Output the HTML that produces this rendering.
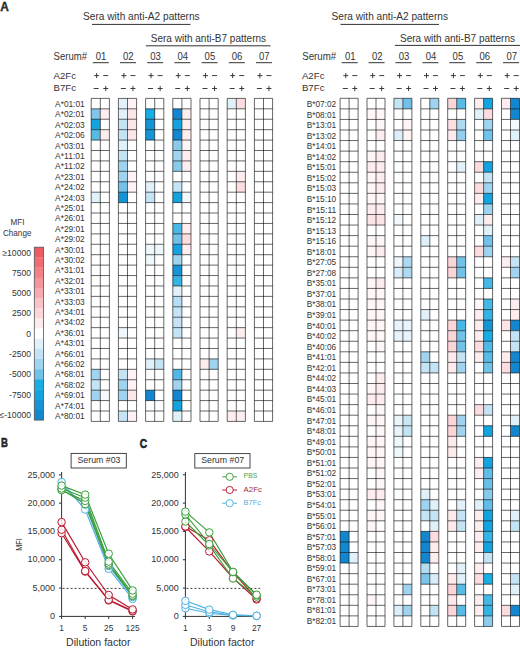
<!DOCTYPE html>
<html><head><meta charset="utf-8"><title>Figure</title>
<style>
html,body{margin:0;padding:0;background:#fff;}
body{width:520px;height:649px;overflow:hidden;}
svg{display:block;}
text{font-family:"Liberation Sans",sans-serif;}
</style></head>
<body>
<svg width="520" height="649" viewBox="0 0 520 649" fill="#333333">
<rect width="520" height="649" fill="#fff"/>
<text x="0.20" y="10.90" font-size="12" font-weight="bold" textLength="8.6" lengthAdjust="spacingAndGlyphs" stroke="#000" stroke-width="0.3">A</text>
<text x="0.90" y="447.40" font-size="12" font-weight="bold" textLength="6.9" lengthAdjust="spacingAndGlyphs" stroke="#000" stroke-width="0.5">B</text>
<text x="139.80" y="447.60" font-size="12" font-weight="bold" textLength="7.4" lengthAdjust="spacingAndGlyphs" stroke="#000" stroke-width="0.5">C</text>
<text x="83.00" y="20.00" font-size="10.4" textLength="116.7" lengthAdjust="spacingAndGlyphs">Sera with anti-A2 patterns</text>
<line x1="92.00" y1="24.40" x2="190.50" y2="24.40" stroke="#333" stroke-width="1.0"/>
<text x="150.70" y="41.90" font-size="10.4" textLength="115.4" lengthAdjust="spacingAndGlyphs">Sera with anti-B7 patterns</text>
<line x1="145.80" y1="45.80" x2="270.50" y2="45.80" stroke="#333" stroke-width="1.0"/>
<text x="53.60" y="59.60" font-size="10.3" textLength="33.4" lengthAdjust="spacingAndGlyphs">Serum#</text>
<text x="53.60" y="78.50" font-size="9.8" textLength="22.4" lengthAdjust="spacingAndGlyphs">A2Fc</text>
<text x="53.60" y="90.80" font-size="9.8" textLength="22.4" lengthAdjust="spacingAndGlyphs">B7Fc</text>
<text x="331.60" y="19.80" font-size="10.4" textLength="116.4" lengthAdjust="spacingAndGlyphs">Sera with anti-A2 patterns</text>
<line x1="340.50" y1="24.40" x2="439.00" y2="24.40" stroke="#333" stroke-width="1.0"/>
<text x="400.00" y="41.60" font-size="10.4" textLength="115.0" lengthAdjust="spacingAndGlyphs">Sera with anti-B7 patterns</text>
<line x1="395.00" y1="45.40" x2="520.00" y2="45.40" stroke="#333" stroke-width="1.0"/>
<text x="302.30" y="59.50" font-size="10.3" textLength="33.8" lengthAdjust="spacingAndGlyphs">Serum#</text>
<text x="301.90" y="78.50" font-size="9.8" textLength="22.6" lengthAdjust="spacingAndGlyphs">A2Fc</text>
<text x="301.90" y="90.90" font-size="9.8" textLength="22.6" lengthAdjust="spacingAndGlyphs">B7Fc</text>
<rect x="118.40" y="98.40" width="9.10" height="10.42" fill="#e1f1fa"/>
<rect x="127.50" y="98.40" width="9.10" height="10.42" fill="#fef2f4"/>
<rect x="227.20" y="98.40" width="9.10" height="10.42" fill="#e1f1fa"/>
<rect x="236.30" y="98.40" width="9.10" height="10.42" fill="#fcdcdf"/>
<rect x="91.20" y="108.82" width="9.10" height="10.42" fill="#80c6ea"/>
<rect x="100.30" y="108.82" width="9.10" height="10.42" fill="#fdedef"/>
<rect x="118.40" y="108.82" width="9.10" height="10.42" fill="#e1f1fa"/>
<rect x="127.50" y="108.82" width="9.10" height="10.42" fill="#fde6e8"/>
<rect x="145.60" y="108.82" width="9.10" height="10.42" fill="#19aee3"/>
<rect x="172.80" y="108.82" width="9.10" height="10.42" fill="#1287cf"/>
<rect x="181.90" y="108.82" width="9.10" height="10.42" fill="#fdedef"/>
<rect x="91.20" y="119.24" width="9.10" height="10.42" fill="#13a3de"/>
<rect x="118.40" y="119.24" width="9.10" height="10.42" fill="#c4e4f5"/>
<rect x="127.50" y="119.24" width="9.10" height="10.42" fill="#fde6e8"/>
<rect x="145.60" y="119.24" width="9.10" height="10.42" fill="#1595d6"/>
<rect x="172.80" y="119.24" width="9.10" height="10.42" fill="#13a3de"/>
<rect x="181.90" y="119.24" width="9.10" height="10.42" fill="#fdedef"/>
<rect x="91.20" y="129.66" width="9.10" height="10.42" fill="#57bbe6"/>
<rect x="100.30" y="129.66" width="9.10" height="10.42" fill="#fdedef"/>
<rect x="118.40" y="129.66" width="9.10" height="10.42" fill="#c4e4f5"/>
<rect x="127.50" y="129.66" width="9.10" height="10.42" fill="#fde6e8"/>
<rect x="145.60" y="129.66" width="9.10" height="10.42" fill="#1595d6"/>
<rect x="172.80" y="129.66" width="9.10" height="10.42" fill="#1287cf"/>
<rect x="181.90" y="129.66" width="9.10" height="10.42" fill="#fdedef"/>
<rect x="118.40" y="140.08" width="9.10" height="10.42" fill="#e1f1fa"/>
<rect x="172.80" y="140.08" width="9.10" height="10.42" fill="#88caec"/>
<rect x="181.90" y="140.08" width="9.10" height="10.42" fill="#fef6f7"/>
<rect x="118.40" y="150.50" width="9.10" height="10.42" fill="#c4e4f5"/>
<rect x="172.80" y="150.50" width="9.10" height="10.42" fill="#9fd3ef"/>
<rect x="181.90" y="150.50" width="9.10" height="10.42" fill="#fdedef"/>
<rect x="118.40" y="160.92" width="9.10" height="10.42" fill="#9fd3ef"/>
<rect x="172.80" y="160.92" width="9.10" height="10.42" fill="#88caec"/>
<rect x="181.90" y="160.92" width="9.10" height="10.42" fill="#fdedef"/>
<rect x="118.40" y="171.34" width="9.10" height="10.42" fill="#9fd3ef"/>
<rect x="127.50" y="171.34" width="9.10" height="10.42" fill="#fef2f4"/>
<rect x="236.30" y="171.34" width="9.10" height="10.42" fill="#fdedef"/>
<rect x="118.40" y="181.76" width="9.10" height="10.42" fill="#72c1e8"/>
<rect x="127.50" y="181.76" width="9.10" height="10.42" fill="#fef2f4"/>
<rect x="145.60" y="181.76" width="9.10" height="10.42" fill="#e1f1fa"/>
<rect x="172.80" y="181.76" width="9.10" height="10.42" fill="#c4e4f5"/>
<rect x="236.30" y="181.76" width="9.10" height="10.42" fill="#fcdcdf"/>
<rect x="91.20" y="192.18" width="9.10" height="10.42" fill="#e1f1fa"/>
<rect x="118.40" y="192.18" width="9.10" height="10.42" fill="#1595d6"/>
<rect x="145.60" y="192.18" width="9.10" height="10.42" fill="#c4e4f5"/>
<rect x="172.80" y="192.18" width="9.10" height="10.42" fill="#13a3de"/>
<rect x="181.90" y="192.18" width="9.10" height="10.42" fill="#f3f9fd"/>
<rect x="172.80" y="223.44" width="9.10" height="10.42" fill="#46b8e6"/>
<rect x="181.90" y="223.44" width="9.10" height="10.42" fill="#fdedef"/>
<rect x="172.80" y="233.86" width="9.10" height="10.42" fill="#72c1e8"/>
<rect x="181.90" y="233.86" width="9.10" height="10.42" fill="#fcdcdf"/>
<rect x="145.60" y="244.28" width="9.10" height="10.42" fill="#edf7fc"/>
<rect x="154.70" y="244.28" width="9.10" height="10.42" fill="#edf7fc"/>
<rect x="172.80" y="244.28" width="9.10" height="10.42" fill="#13a3de"/>
<rect x="181.90" y="244.28" width="9.10" height="10.42" fill="#fdedef"/>
<rect x="145.60" y="254.70" width="9.10" height="10.42" fill="#f0f8fc"/>
<rect x="172.80" y="254.70" width="9.10" height="10.42" fill="#9fd3ef"/>
<rect x="172.80" y="265.12" width="9.10" height="10.42" fill="#1595d6"/>
<rect x="172.80" y="275.54" width="9.10" height="10.42" fill="#34b4e4"/>
<rect x="172.80" y="285.96" width="9.10" height="10.42" fill="#e1f1fa"/>
<rect x="172.80" y="296.38" width="9.10" height="10.42" fill="#b5ddf3"/>
<rect x="172.80" y="306.80" width="9.10" height="10.42" fill="#c4e4f5"/>
<rect x="172.80" y="317.22" width="9.10" height="10.42" fill="#c4e4f5"/>
<rect x="118.40" y="327.64" width="9.10" height="10.42" fill="#edf7fc"/>
<rect x="172.80" y="327.64" width="9.10" height="10.42" fill="#c4e4f5"/>
<rect x="236.30" y="327.64" width="9.10" height="10.42" fill="#fdedef"/>
<rect x="145.60" y="358.90" width="9.10" height="10.42" fill="#e1f1fa"/>
<rect x="154.70" y="358.90" width="9.10" height="10.42" fill="#c4e4f5"/>
<rect x="200.00" y="358.90" width="9.10" height="10.42" fill="#fdedef"/>
<rect x="209.10" y="358.90" width="9.10" height="10.42" fill="#9fd3ef"/>
<rect x="91.20" y="369.32" width="9.10" height="10.42" fill="#9fd3ef"/>
<rect x="118.40" y="369.32" width="9.10" height="10.42" fill="#c4e4f5"/>
<rect x="127.50" y="369.32" width="9.10" height="10.42" fill="#fef2f4"/>
<rect x="172.80" y="369.32" width="9.10" height="10.42" fill="#4eb9e6"/>
<rect x="91.20" y="379.74" width="9.10" height="10.42" fill="#c4e4f5"/>
<rect x="118.40" y="379.74" width="9.10" height="10.42" fill="#9fd3ef"/>
<rect x="127.50" y="379.74" width="9.10" height="10.42" fill="#fef2f4"/>
<rect x="172.80" y="379.74" width="9.10" height="10.42" fill="#9fd3ef"/>
<rect x="91.20" y="390.16" width="9.10" height="10.42" fill="#9fd3ef"/>
<rect x="100.30" y="390.16" width="9.10" height="10.42" fill="#f3f9fd"/>
<rect x="118.40" y="390.16" width="9.10" height="10.42" fill="#9fd3ef"/>
<rect x="127.50" y="390.16" width="9.10" height="10.42" fill="#fde6e8"/>
<rect x="145.60" y="390.16" width="9.10" height="10.42" fill="#1287cf"/>
<rect x="172.80" y="390.16" width="9.10" height="10.42" fill="#1287cf"/>
<rect x="172.80" y="400.58" width="9.10" height="10.42" fill="#13a3de"/>
<rect x="118.40" y="411.00" width="9.10" height="10.42" fill="#c4e4f5"/>
<rect x="127.50" y="411.00" width="9.10" height="10.42" fill="#fef2f4"/>
<rect x="172.80" y="411.00" width="9.10" height="10.42" fill="#e1f1fa"/>
<rect x="227.20" y="411.00" width="9.10" height="10.42" fill="#fdedef"/>
<rect x="236.30" y="411.00" width="9.10" height="10.42" fill="#fdedef"/>
<line x1="91.20" y1="98.40" x2="91.20" y2="421.42" stroke="#000" stroke-width="0.95" stroke-opacity="0.63"/>
<line x1="100.30" y1="98.40" x2="100.30" y2="421.42" stroke="#000" stroke-width="0.95" stroke-opacity="0.63"/>
<line x1="109.40" y1="98.40" x2="109.40" y2="421.42" stroke="#000" stroke-width="0.95" stroke-opacity="0.63"/>
<line x1="91.20" y1="98.40" x2="109.40" y2="98.40" stroke="#000" stroke-width="0.95" stroke-opacity="0.63"/>
<line x1="91.20" y1="108.82" x2="109.40" y2="108.82" stroke="#000" stroke-width="0.95" stroke-opacity="0.63"/>
<line x1="91.20" y1="119.24" x2="109.40" y2="119.24" stroke="#000" stroke-width="0.95" stroke-opacity="0.63"/>
<line x1="91.20" y1="129.66" x2="109.40" y2="129.66" stroke="#000" stroke-width="0.95" stroke-opacity="0.63"/>
<line x1="91.20" y1="140.08" x2="109.40" y2="140.08" stroke="#000" stroke-width="0.95" stroke-opacity="0.63"/>
<line x1="91.20" y1="150.50" x2="109.40" y2="150.50" stroke="#000" stroke-width="0.95" stroke-opacity="0.63"/>
<line x1="91.20" y1="160.92" x2="109.40" y2="160.92" stroke="#000" stroke-width="0.95" stroke-opacity="0.63"/>
<line x1="91.20" y1="171.34" x2="109.40" y2="171.34" stroke="#000" stroke-width="0.95" stroke-opacity="0.63"/>
<line x1="91.20" y1="181.76" x2="109.40" y2="181.76" stroke="#000" stroke-width="0.95" stroke-opacity="0.63"/>
<line x1="91.20" y1="192.18" x2="109.40" y2="192.18" stroke="#000" stroke-width="0.95" stroke-opacity="0.63"/>
<line x1="91.20" y1="202.60" x2="109.40" y2="202.60" stroke="#000" stroke-width="0.95" stroke-opacity="0.63"/>
<line x1="91.20" y1="213.02" x2="109.40" y2="213.02" stroke="#000" stroke-width="0.95" stroke-opacity="0.63"/>
<line x1="91.20" y1="223.44" x2="109.40" y2="223.44" stroke="#000" stroke-width="0.95" stroke-opacity="0.63"/>
<line x1="91.20" y1="233.86" x2="109.40" y2="233.86" stroke="#000" stroke-width="0.95" stroke-opacity="0.63"/>
<line x1="91.20" y1="244.28" x2="109.40" y2="244.28" stroke="#000" stroke-width="0.95" stroke-opacity="0.63"/>
<line x1="91.20" y1="254.70" x2="109.40" y2="254.70" stroke="#000" stroke-width="0.95" stroke-opacity="0.63"/>
<line x1="91.20" y1="265.12" x2="109.40" y2="265.12" stroke="#000" stroke-width="0.95" stroke-opacity="0.63"/>
<line x1="91.20" y1="275.54" x2="109.40" y2="275.54" stroke="#000" stroke-width="0.95" stroke-opacity="0.63"/>
<line x1="91.20" y1="285.96" x2="109.40" y2="285.96" stroke="#000" stroke-width="0.95" stroke-opacity="0.63"/>
<line x1="91.20" y1="296.38" x2="109.40" y2="296.38" stroke="#000" stroke-width="0.95" stroke-opacity="0.63"/>
<line x1="91.20" y1="306.80" x2="109.40" y2="306.80" stroke="#000" stroke-width="0.95" stroke-opacity="0.63"/>
<line x1="91.20" y1="317.22" x2="109.40" y2="317.22" stroke="#000" stroke-width="0.95" stroke-opacity="0.63"/>
<line x1="91.20" y1="327.64" x2="109.40" y2="327.64" stroke="#000" stroke-width="0.95" stroke-opacity="0.63"/>
<line x1="91.20" y1="338.06" x2="109.40" y2="338.06" stroke="#000" stroke-width="0.95" stroke-opacity="0.63"/>
<line x1="91.20" y1="348.48" x2="109.40" y2="348.48" stroke="#000" stroke-width="0.95" stroke-opacity="0.63"/>
<line x1="91.20" y1="358.90" x2="109.40" y2="358.90" stroke="#000" stroke-width="0.95" stroke-opacity="0.63"/>
<line x1="91.20" y1="369.32" x2="109.40" y2="369.32" stroke="#000" stroke-width="0.95" stroke-opacity="0.63"/>
<line x1="91.20" y1="379.74" x2="109.40" y2="379.74" stroke="#000" stroke-width="0.95" stroke-opacity="0.63"/>
<line x1="91.20" y1="390.16" x2="109.40" y2="390.16" stroke="#000" stroke-width="0.95" stroke-opacity="0.63"/>
<line x1="91.20" y1="400.58" x2="109.40" y2="400.58" stroke="#000" stroke-width="0.95" stroke-opacity="0.63"/>
<line x1="91.20" y1="411.00" x2="109.40" y2="411.00" stroke="#000" stroke-width="0.95" stroke-opacity="0.63"/>
<line x1="91.20" y1="421.42" x2="109.40" y2="421.42" stroke="#000" stroke-width="0.95" stroke-opacity="0.63"/>
<line x1="118.40" y1="98.40" x2="118.40" y2="421.42" stroke="#000" stroke-width="0.95" stroke-opacity="0.63"/>
<line x1="127.50" y1="98.40" x2="127.50" y2="421.42" stroke="#000" stroke-width="0.95" stroke-opacity="0.63"/>
<line x1="136.60" y1="98.40" x2="136.60" y2="421.42" stroke="#000" stroke-width="0.95" stroke-opacity="0.63"/>
<line x1="118.40" y1="98.40" x2="136.60" y2="98.40" stroke="#000" stroke-width="0.95" stroke-opacity="0.63"/>
<line x1="118.40" y1="108.82" x2="136.60" y2="108.82" stroke="#000" stroke-width="0.95" stroke-opacity="0.63"/>
<line x1="118.40" y1="119.24" x2="136.60" y2="119.24" stroke="#000" stroke-width="0.95" stroke-opacity="0.63"/>
<line x1="118.40" y1="129.66" x2="136.60" y2="129.66" stroke="#000" stroke-width="0.95" stroke-opacity="0.63"/>
<line x1="118.40" y1="140.08" x2="136.60" y2="140.08" stroke="#000" stroke-width="0.95" stroke-opacity="0.63"/>
<line x1="118.40" y1="150.50" x2="136.60" y2="150.50" stroke="#000" stroke-width="0.95" stroke-opacity="0.63"/>
<line x1="118.40" y1="160.92" x2="136.60" y2="160.92" stroke="#000" stroke-width="0.95" stroke-opacity="0.63"/>
<line x1="118.40" y1="171.34" x2="136.60" y2="171.34" stroke="#000" stroke-width="0.95" stroke-opacity="0.63"/>
<line x1="118.40" y1="181.76" x2="136.60" y2="181.76" stroke="#000" stroke-width="0.95" stroke-opacity="0.63"/>
<line x1="118.40" y1="192.18" x2="136.60" y2="192.18" stroke="#000" stroke-width="0.95" stroke-opacity="0.63"/>
<line x1="118.40" y1="202.60" x2="136.60" y2="202.60" stroke="#000" stroke-width="0.95" stroke-opacity="0.63"/>
<line x1="118.40" y1="213.02" x2="136.60" y2="213.02" stroke="#000" stroke-width="0.95" stroke-opacity="0.63"/>
<line x1="118.40" y1="223.44" x2="136.60" y2="223.44" stroke="#000" stroke-width="0.95" stroke-opacity="0.63"/>
<line x1="118.40" y1="233.86" x2="136.60" y2="233.86" stroke="#000" stroke-width="0.95" stroke-opacity="0.63"/>
<line x1="118.40" y1="244.28" x2="136.60" y2="244.28" stroke="#000" stroke-width="0.95" stroke-opacity="0.63"/>
<line x1="118.40" y1="254.70" x2="136.60" y2="254.70" stroke="#000" stroke-width="0.95" stroke-opacity="0.63"/>
<line x1="118.40" y1="265.12" x2="136.60" y2="265.12" stroke="#000" stroke-width="0.95" stroke-opacity="0.63"/>
<line x1="118.40" y1="275.54" x2="136.60" y2="275.54" stroke="#000" stroke-width="0.95" stroke-opacity="0.63"/>
<line x1="118.40" y1="285.96" x2="136.60" y2="285.96" stroke="#000" stroke-width="0.95" stroke-opacity="0.63"/>
<line x1="118.40" y1="296.38" x2="136.60" y2="296.38" stroke="#000" stroke-width="0.95" stroke-opacity="0.63"/>
<line x1="118.40" y1="306.80" x2="136.60" y2="306.80" stroke="#000" stroke-width="0.95" stroke-opacity="0.63"/>
<line x1="118.40" y1="317.22" x2="136.60" y2="317.22" stroke="#000" stroke-width="0.95" stroke-opacity="0.63"/>
<line x1="118.40" y1="327.64" x2="136.60" y2="327.64" stroke="#000" stroke-width="0.95" stroke-opacity="0.63"/>
<line x1="118.40" y1="338.06" x2="136.60" y2="338.06" stroke="#000" stroke-width="0.95" stroke-opacity="0.63"/>
<line x1="118.40" y1="348.48" x2="136.60" y2="348.48" stroke="#000" stroke-width="0.95" stroke-opacity="0.63"/>
<line x1="118.40" y1="358.90" x2="136.60" y2="358.90" stroke="#000" stroke-width="0.95" stroke-opacity="0.63"/>
<line x1="118.40" y1="369.32" x2="136.60" y2="369.32" stroke="#000" stroke-width="0.95" stroke-opacity="0.63"/>
<line x1="118.40" y1="379.74" x2="136.60" y2="379.74" stroke="#000" stroke-width="0.95" stroke-opacity="0.63"/>
<line x1="118.40" y1="390.16" x2="136.60" y2="390.16" stroke="#000" stroke-width="0.95" stroke-opacity="0.63"/>
<line x1="118.40" y1="400.58" x2="136.60" y2="400.58" stroke="#000" stroke-width="0.95" stroke-opacity="0.63"/>
<line x1="118.40" y1="411.00" x2="136.60" y2="411.00" stroke="#000" stroke-width="0.95" stroke-opacity="0.63"/>
<line x1="118.40" y1="421.42" x2="136.60" y2="421.42" stroke="#000" stroke-width="0.95" stroke-opacity="0.63"/>
<line x1="145.60" y1="98.40" x2="145.60" y2="421.42" stroke="#000" stroke-width="0.95" stroke-opacity="0.63"/>
<line x1="154.70" y1="98.40" x2="154.70" y2="421.42" stroke="#000" stroke-width="0.95" stroke-opacity="0.63"/>
<line x1="163.80" y1="98.40" x2="163.80" y2="421.42" stroke="#000" stroke-width="0.95" stroke-opacity="0.63"/>
<line x1="145.60" y1="98.40" x2="163.80" y2="98.40" stroke="#000" stroke-width="0.95" stroke-opacity="0.63"/>
<line x1="145.60" y1="108.82" x2="163.80" y2="108.82" stroke="#000" stroke-width="0.95" stroke-opacity="0.63"/>
<line x1="145.60" y1="119.24" x2="163.80" y2="119.24" stroke="#000" stroke-width="0.95" stroke-opacity="0.63"/>
<line x1="145.60" y1="129.66" x2="163.80" y2="129.66" stroke="#000" stroke-width="0.95" stroke-opacity="0.63"/>
<line x1="145.60" y1="140.08" x2="163.80" y2="140.08" stroke="#000" stroke-width="0.95" stroke-opacity="0.63"/>
<line x1="145.60" y1="150.50" x2="163.80" y2="150.50" stroke="#000" stroke-width="0.95" stroke-opacity="0.63"/>
<line x1="145.60" y1="160.92" x2="163.80" y2="160.92" stroke="#000" stroke-width="0.95" stroke-opacity="0.63"/>
<line x1="145.60" y1="171.34" x2="163.80" y2="171.34" stroke="#000" stroke-width="0.95" stroke-opacity="0.63"/>
<line x1="145.60" y1="181.76" x2="163.80" y2="181.76" stroke="#000" stroke-width="0.95" stroke-opacity="0.63"/>
<line x1="145.60" y1="192.18" x2="163.80" y2="192.18" stroke="#000" stroke-width="0.95" stroke-opacity="0.63"/>
<line x1="145.60" y1="202.60" x2="163.80" y2="202.60" stroke="#000" stroke-width="0.95" stroke-opacity="0.63"/>
<line x1="145.60" y1="213.02" x2="163.80" y2="213.02" stroke="#000" stroke-width="0.95" stroke-opacity="0.63"/>
<line x1="145.60" y1="223.44" x2="163.80" y2="223.44" stroke="#000" stroke-width="0.95" stroke-opacity="0.63"/>
<line x1="145.60" y1="233.86" x2="163.80" y2="233.86" stroke="#000" stroke-width="0.95" stroke-opacity="0.63"/>
<line x1="145.60" y1="244.28" x2="163.80" y2="244.28" stroke="#000" stroke-width="0.95" stroke-opacity="0.63"/>
<line x1="145.60" y1="254.70" x2="163.80" y2="254.70" stroke="#000" stroke-width="0.95" stroke-opacity="0.63"/>
<line x1="145.60" y1="265.12" x2="163.80" y2="265.12" stroke="#000" stroke-width="0.95" stroke-opacity="0.63"/>
<line x1="145.60" y1="275.54" x2="163.80" y2="275.54" stroke="#000" stroke-width="0.95" stroke-opacity="0.63"/>
<line x1="145.60" y1="285.96" x2="163.80" y2="285.96" stroke="#000" stroke-width="0.95" stroke-opacity="0.63"/>
<line x1="145.60" y1="296.38" x2="163.80" y2="296.38" stroke="#000" stroke-width="0.95" stroke-opacity="0.63"/>
<line x1="145.60" y1="306.80" x2="163.80" y2="306.80" stroke="#000" stroke-width="0.95" stroke-opacity="0.63"/>
<line x1="145.60" y1="317.22" x2="163.80" y2="317.22" stroke="#000" stroke-width="0.95" stroke-opacity="0.63"/>
<line x1="145.60" y1="327.64" x2="163.80" y2="327.64" stroke="#000" stroke-width="0.95" stroke-opacity="0.63"/>
<line x1="145.60" y1="338.06" x2="163.80" y2="338.06" stroke="#000" stroke-width="0.95" stroke-opacity="0.63"/>
<line x1="145.60" y1="348.48" x2="163.80" y2="348.48" stroke="#000" stroke-width="0.95" stroke-opacity="0.63"/>
<line x1="145.60" y1="358.90" x2="163.80" y2="358.90" stroke="#000" stroke-width="0.95" stroke-opacity="0.63"/>
<line x1="145.60" y1="369.32" x2="163.80" y2="369.32" stroke="#000" stroke-width="0.95" stroke-opacity="0.63"/>
<line x1="145.60" y1="379.74" x2="163.80" y2="379.74" stroke="#000" stroke-width="0.95" stroke-opacity="0.63"/>
<line x1="145.60" y1="390.16" x2="163.80" y2="390.16" stroke="#000" stroke-width="0.95" stroke-opacity="0.63"/>
<line x1="145.60" y1="400.58" x2="163.80" y2="400.58" stroke="#000" stroke-width="0.95" stroke-opacity="0.63"/>
<line x1="145.60" y1="411.00" x2="163.80" y2="411.00" stroke="#000" stroke-width="0.95" stroke-opacity="0.63"/>
<line x1="145.60" y1="421.42" x2="163.80" y2="421.42" stroke="#000" stroke-width="0.95" stroke-opacity="0.63"/>
<line x1="172.80" y1="98.40" x2="172.80" y2="421.42" stroke="#000" stroke-width="0.95" stroke-opacity="0.63"/>
<line x1="181.90" y1="98.40" x2="181.90" y2="421.42" stroke="#000" stroke-width="0.95" stroke-opacity="0.63"/>
<line x1="191.00" y1="98.40" x2="191.00" y2="421.42" stroke="#000" stroke-width="0.95" stroke-opacity="0.63"/>
<line x1="172.80" y1="98.40" x2="191.00" y2="98.40" stroke="#000" stroke-width="0.95" stroke-opacity="0.63"/>
<line x1="172.80" y1="108.82" x2="191.00" y2="108.82" stroke="#000" stroke-width="0.95" stroke-opacity="0.63"/>
<line x1="172.80" y1="119.24" x2="191.00" y2="119.24" stroke="#000" stroke-width="0.95" stroke-opacity="0.63"/>
<line x1="172.80" y1="129.66" x2="191.00" y2="129.66" stroke="#000" stroke-width="0.95" stroke-opacity="0.63"/>
<line x1="172.80" y1="140.08" x2="191.00" y2="140.08" stroke="#000" stroke-width="0.95" stroke-opacity="0.63"/>
<line x1="172.80" y1="150.50" x2="191.00" y2="150.50" stroke="#000" stroke-width="0.95" stroke-opacity="0.63"/>
<line x1="172.80" y1="160.92" x2="191.00" y2="160.92" stroke="#000" stroke-width="0.95" stroke-opacity="0.63"/>
<line x1="172.80" y1="171.34" x2="191.00" y2="171.34" stroke="#000" stroke-width="0.95" stroke-opacity="0.63"/>
<line x1="172.80" y1="181.76" x2="191.00" y2="181.76" stroke="#000" stroke-width="0.95" stroke-opacity="0.63"/>
<line x1="172.80" y1="192.18" x2="191.00" y2="192.18" stroke="#000" stroke-width="0.95" stroke-opacity="0.63"/>
<line x1="172.80" y1="202.60" x2="191.00" y2="202.60" stroke="#000" stroke-width="0.95" stroke-opacity="0.63"/>
<line x1="172.80" y1="213.02" x2="191.00" y2="213.02" stroke="#000" stroke-width="0.95" stroke-opacity="0.63"/>
<line x1="172.80" y1="223.44" x2="191.00" y2="223.44" stroke="#000" stroke-width="0.95" stroke-opacity="0.63"/>
<line x1="172.80" y1="233.86" x2="191.00" y2="233.86" stroke="#000" stroke-width="0.95" stroke-opacity="0.63"/>
<line x1="172.80" y1="244.28" x2="191.00" y2="244.28" stroke="#000" stroke-width="0.95" stroke-opacity="0.63"/>
<line x1="172.80" y1="254.70" x2="191.00" y2="254.70" stroke="#000" stroke-width="0.95" stroke-opacity="0.63"/>
<line x1="172.80" y1="265.12" x2="191.00" y2="265.12" stroke="#000" stroke-width="0.95" stroke-opacity="0.63"/>
<line x1="172.80" y1="275.54" x2="191.00" y2="275.54" stroke="#000" stroke-width="0.95" stroke-opacity="0.63"/>
<line x1="172.80" y1="285.96" x2="191.00" y2="285.96" stroke="#000" stroke-width="0.95" stroke-opacity="0.63"/>
<line x1="172.80" y1="296.38" x2="191.00" y2="296.38" stroke="#000" stroke-width="0.95" stroke-opacity="0.63"/>
<line x1="172.80" y1="306.80" x2="191.00" y2="306.80" stroke="#000" stroke-width="0.95" stroke-opacity="0.63"/>
<line x1="172.80" y1="317.22" x2="191.00" y2="317.22" stroke="#000" stroke-width="0.95" stroke-opacity="0.63"/>
<line x1="172.80" y1="327.64" x2="191.00" y2="327.64" stroke="#000" stroke-width="0.95" stroke-opacity="0.63"/>
<line x1="172.80" y1="338.06" x2="191.00" y2="338.06" stroke="#000" stroke-width="0.95" stroke-opacity="0.63"/>
<line x1="172.80" y1="348.48" x2="191.00" y2="348.48" stroke="#000" stroke-width="0.95" stroke-opacity="0.63"/>
<line x1="172.80" y1="358.90" x2="191.00" y2="358.90" stroke="#000" stroke-width="0.95" stroke-opacity="0.63"/>
<line x1="172.80" y1="369.32" x2="191.00" y2="369.32" stroke="#000" stroke-width="0.95" stroke-opacity="0.63"/>
<line x1="172.80" y1="379.74" x2="191.00" y2="379.74" stroke="#000" stroke-width="0.95" stroke-opacity="0.63"/>
<line x1="172.80" y1="390.16" x2="191.00" y2="390.16" stroke="#000" stroke-width="0.95" stroke-opacity="0.63"/>
<line x1="172.80" y1="400.58" x2="191.00" y2="400.58" stroke="#000" stroke-width="0.95" stroke-opacity="0.63"/>
<line x1="172.80" y1="411.00" x2="191.00" y2="411.00" stroke="#000" stroke-width="0.95" stroke-opacity="0.63"/>
<line x1="172.80" y1="421.42" x2="191.00" y2="421.42" stroke="#000" stroke-width="0.95" stroke-opacity="0.63"/>
<line x1="200.00" y1="98.40" x2="200.00" y2="421.42" stroke="#000" stroke-width="0.95" stroke-opacity="0.63"/>
<line x1="209.10" y1="98.40" x2="209.10" y2="421.42" stroke="#000" stroke-width="0.95" stroke-opacity="0.63"/>
<line x1="218.20" y1="98.40" x2="218.20" y2="421.42" stroke="#000" stroke-width="0.95" stroke-opacity="0.63"/>
<line x1="200.00" y1="98.40" x2="218.20" y2="98.40" stroke="#000" stroke-width="0.95" stroke-opacity="0.63"/>
<line x1="200.00" y1="108.82" x2="218.20" y2="108.82" stroke="#000" stroke-width="0.95" stroke-opacity="0.63"/>
<line x1="200.00" y1="119.24" x2="218.20" y2="119.24" stroke="#000" stroke-width="0.95" stroke-opacity="0.63"/>
<line x1="200.00" y1="129.66" x2="218.20" y2="129.66" stroke="#000" stroke-width="0.95" stroke-opacity="0.63"/>
<line x1="200.00" y1="140.08" x2="218.20" y2="140.08" stroke="#000" stroke-width="0.95" stroke-opacity="0.63"/>
<line x1="200.00" y1="150.50" x2="218.20" y2="150.50" stroke="#000" stroke-width="0.95" stroke-opacity="0.63"/>
<line x1="200.00" y1="160.92" x2="218.20" y2="160.92" stroke="#000" stroke-width="0.95" stroke-opacity="0.63"/>
<line x1="200.00" y1="171.34" x2="218.20" y2="171.34" stroke="#000" stroke-width="0.95" stroke-opacity="0.63"/>
<line x1="200.00" y1="181.76" x2="218.20" y2="181.76" stroke="#000" stroke-width="0.95" stroke-opacity="0.63"/>
<line x1="200.00" y1="192.18" x2="218.20" y2="192.18" stroke="#000" stroke-width="0.95" stroke-opacity="0.63"/>
<line x1="200.00" y1="202.60" x2="218.20" y2="202.60" stroke="#000" stroke-width="0.95" stroke-opacity="0.63"/>
<line x1="200.00" y1="213.02" x2="218.20" y2="213.02" stroke="#000" stroke-width="0.95" stroke-opacity="0.63"/>
<line x1="200.00" y1="223.44" x2="218.20" y2="223.44" stroke="#000" stroke-width="0.95" stroke-opacity="0.63"/>
<line x1="200.00" y1="233.86" x2="218.20" y2="233.86" stroke="#000" stroke-width="0.95" stroke-opacity="0.63"/>
<line x1="200.00" y1="244.28" x2="218.20" y2="244.28" stroke="#000" stroke-width="0.95" stroke-opacity="0.63"/>
<line x1="200.00" y1="254.70" x2="218.20" y2="254.70" stroke="#000" stroke-width="0.95" stroke-opacity="0.63"/>
<line x1="200.00" y1="265.12" x2="218.20" y2="265.12" stroke="#000" stroke-width="0.95" stroke-opacity="0.63"/>
<line x1="200.00" y1="275.54" x2="218.20" y2="275.54" stroke="#000" stroke-width="0.95" stroke-opacity="0.63"/>
<line x1="200.00" y1="285.96" x2="218.20" y2="285.96" stroke="#000" stroke-width="0.95" stroke-opacity="0.63"/>
<line x1="200.00" y1="296.38" x2="218.20" y2="296.38" stroke="#000" stroke-width="0.95" stroke-opacity="0.63"/>
<line x1="200.00" y1="306.80" x2="218.20" y2="306.80" stroke="#000" stroke-width="0.95" stroke-opacity="0.63"/>
<line x1="200.00" y1="317.22" x2="218.20" y2="317.22" stroke="#000" stroke-width="0.95" stroke-opacity="0.63"/>
<line x1="200.00" y1="327.64" x2="218.20" y2="327.64" stroke="#000" stroke-width="0.95" stroke-opacity="0.63"/>
<line x1="200.00" y1="338.06" x2="218.20" y2="338.06" stroke="#000" stroke-width="0.95" stroke-opacity="0.63"/>
<line x1="200.00" y1="348.48" x2="218.20" y2="348.48" stroke="#000" stroke-width="0.95" stroke-opacity="0.63"/>
<line x1="200.00" y1="358.90" x2="218.20" y2="358.90" stroke="#000" stroke-width="0.95" stroke-opacity="0.63"/>
<line x1="200.00" y1="369.32" x2="218.20" y2="369.32" stroke="#000" stroke-width="0.95" stroke-opacity="0.63"/>
<line x1="200.00" y1="379.74" x2="218.20" y2="379.74" stroke="#000" stroke-width="0.95" stroke-opacity="0.63"/>
<line x1="200.00" y1="390.16" x2="218.20" y2="390.16" stroke="#000" stroke-width="0.95" stroke-opacity="0.63"/>
<line x1="200.00" y1="400.58" x2="218.20" y2="400.58" stroke="#000" stroke-width="0.95" stroke-opacity="0.63"/>
<line x1="200.00" y1="411.00" x2="218.20" y2="411.00" stroke="#000" stroke-width="0.95" stroke-opacity="0.63"/>
<line x1="200.00" y1="421.42" x2="218.20" y2="421.42" stroke="#000" stroke-width="0.95" stroke-opacity="0.63"/>
<line x1="227.20" y1="98.40" x2="227.20" y2="421.42" stroke="#000" stroke-width="0.95" stroke-opacity="0.63"/>
<line x1="236.30" y1="98.40" x2="236.30" y2="421.42" stroke="#000" stroke-width="0.95" stroke-opacity="0.63"/>
<line x1="245.40" y1="98.40" x2="245.40" y2="421.42" stroke="#000" stroke-width="0.95" stroke-opacity="0.63"/>
<line x1="227.20" y1="98.40" x2="245.40" y2="98.40" stroke="#000" stroke-width="0.95" stroke-opacity="0.63"/>
<line x1="227.20" y1="108.82" x2="245.40" y2="108.82" stroke="#000" stroke-width="0.95" stroke-opacity="0.63"/>
<line x1="227.20" y1="119.24" x2="245.40" y2="119.24" stroke="#000" stroke-width="0.95" stroke-opacity="0.63"/>
<line x1="227.20" y1="129.66" x2="245.40" y2="129.66" stroke="#000" stroke-width="0.95" stroke-opacity="0.63"/>
<line x1="227.20" y1="140.08" x2="245.40" y2="140.08" stroke="#000" stroke-width="0.95" stroke-opacity="0.63"/>
<line x1="227.20" y1="150.50" x2="245.40" y2="150.50" stroke="#000" stroke-width="0.95" stroke-opacity="0.63"/>
<line x1="227.20" y1="160.92" x2="245.40" y2="160.92" stroke="#000" stroke-width="0.95" stroke-opacity="0.63"/>
<line x1="227.20" y1="171.34" x2="245.40" y2="171.34" stroke="#000" stroke-width="0.95" stroke-opacity="0.63"/>
<line x1="227.20" y1="181.76" x2="245.40" y2="181.76" stroke="#000" stroke-width="0.95" stroke-opacity="0.63"/>
<line x1="227.20" y1="192.18" x2="245.40" y2="192.18" stroke="#000" stroke-width="0.95" stroke-opacity="0.63"/>
<line x1="227.20" y1="202.60" x2="245.40" y2="202.60" stroke="#000" stroke-width="0.95" stroke-opacity="0.63"/>
<line x1="227.20" y1="213.02" x2="245.40" y2="213.02" stroke="#000" stroke-width="0.95" stroke-opacity="0.63"/>
<line x1="227.20" y1="223.44" x2="245.40" y2="223.44" stroke="#000" stroke-width="0.95" stroke-opacity="0.63"/>
<line x1="227.20" y1="233.86" x2="245.40" y2="233.86" stroke="#000" stroke-width="0.95" stroke-opacity="0.63"/>
<line x1="227.20" y1="244.28" x2="245.40" y2="244.28" stroke="#000" stroke-width="0.95" stroke-opacity="0.63"/>
<line x1="227.20" y1="254.70" x2="245.40" y2="254.70" stroke="#000" stroke-width="0.95" stroke-opacity="0.63"/>
<line x1="227.20" y1="265.12" x2="245.40" y2="265.12" stroke="#000" stroke-width="0.95" stroke-opacity="0.63"/>
<line x1="227.20" y1="275.54" x2="245.40" y2="275.54" stroke="#000" stroke-width="0.95" stroke-opacity="0.63"/>
<line x1="227.20" y1="285.96" x2="245.40" y2="285.96" stroke="#000" stroke-width="0.95" stroke-opacity="0.63"/>
<line x1="227.20" y1="296.38" x2="245.40" y2="296.38" stroke="#000" stroke-width="0.95" stroke-opacity="0.63"/>
<line x1="227.20" y1="306.80" x2="245.40" y2="306.80" stroke="#000" stroke-width="0.95" stroke-opacity="0.63"/>
<line x1="227.20" y1="317.22" x2="245.40" y2="317.22" stroke="#000" stroke-width="0.95" stroke-opacity="0.63"/>
<line x1="227.20" y1="327.64" x2="245.40" y2="327.64" stroke="#000" stroke-width="0.95" stroke-opacity="0.63"/>
<line x1="227.20" y1="338.06" x2="245.40" y2="338.06" stroke="#000" stroke-width="0.95" stroke-opacity="0.63"/>
<line x1="227.20" y1="348.48" x2="245.40" y2="348.48" stroke="#000" stroke-width="0.95" stroke-opacity="0.63"/>
<line x1="227.20" y1="358.90" x2="245.40" y2="358.90" stroke="#000" stroke-width="0.95" stroke-opacity="0.63"/>
<line x1="227.20" y1="369.32" x2="245.40" y2="369.32" stroke="#000" stroke-width="0.95" stroke-opacity="0.63"/>
<line x1="227.20" y1="379.74" x2="245.40" y2="379.74" stroke="#000" stroke-width="0.95" stroke-opacity="0.63"/>
<line x1="227.20" y1="390.16" x2="245.40" y2="390.16" stroke="#000" stroke-width="0.95" stroke-opacity="0.63"/>
<line x1="227.20" y1="400.58" x2="245.40" y2="400.58" stroke="#000" stroke-width="0.95" stroke-opacity="0.63"/>
<line x1="227.20" y1="411.00" x2="245.40" y2="411.00" stroke="#000" stroke-width="0.95" stroke-opacity="0.63"/>
<line x1="227.20" y1="421.42" x2="245.40" y2="421.42" stroke="#000" stroke-width="0.95" stroke-opacity="0.63"/>
<line x1="254.40" y1="98.40" x2="254.40" y2="421.42" stroke="#000" stroke-width="0.95" stroke-opacity="0.63"/>
<line x1="263.50" y1="98.40" x2="263.50" y2="421.42" stroke="#000" stroke-width="0.95" stroke-opacity="0.63"/>
<line x1="272.60" y1="98.40" x2="272.60" y2="421.42" stroke="#000" stroke-width="0.95" stroke-opacity="0.63"/>
<line x1="254.40" y1="98.40" x2="272.60" y2="98.40" stroke="#000" stroke-width="0.95" stroke-opacity="0.63"/>
<line x1="254.40" y1="108.82" x2="272.60" y2="108.82" stroke="#000" stroke-width="0.95" stroke-opacity="0.63"/>
<line x1="254.40" y1="119.24" x2="272.60" y2="119.24" stroke="#000" stroke-width="0.95" stroke-opacity="0.63"/>
<line x1="254.40" y1="129.66" x2="272.60" y2="129.66" stroke="#000" stroke-width="0.95" stroke-opacity="0.63"/>
<line x1="254.40" y1="140.08" x2="272.60" y2="140.08" stroke="#000" stroke-width="0.95" stroke-opacity="0.63"/>
<line x1="254.40" y1="150.50" x2="272.60" y2="150.50" stroke="#000" stroke-width="0.95" stroke-opacity="0.63"/>
<line x1="254.40" y1="160.92" x2="272.60" y2="160.92" stroke="#000" stroke-width="0.95" stroke-opacity="0.63"/>
<line x1="254.40" y1="171.34" x2="272.60" y2="171.34" stroke="#000" stroke-width="0.95" stroke-opacity="0.63"/>
<line x1="254.40" y1="181.76" x2="272.60" y2="181.76" stroke="#000" stroke-width="0.95" stroke-opacity="0.63"/>
<line x1="254.40" y1="192.18" x2="272.60" y2="192.18" stroke="#000" stroke-width="0.95" stroke-opacity="0.63"/>
<line x1="254.40" y1="202.60" x2="272.60" y2="202.60" stroke="#000" stroke-width="0.95" stroke-opacity="0.63"/>
<line x1="254.40" y1="213.02" x2="272.60" y2="213.02" stroke="#000" stroke-width="0.95" stroke-opacity="0.63"/>
<line x1="254.40" y1="223.44" x2="272.60" y2="223.44" stroke="#000" stroke-width="0.95" stroke-opacity="0.63"/>
<line x1="254.40" y1="233.86" x2="272.60" y2="233.86" stroke="#000" stroke-width="0.95" stroke-opacity="0.63"/>
<line x1="254.40" y1="244.28" x2="272.60" y2="244.28" stroke="#000" stroke-width="0.95" stroke-opacity="0.63"/>
<line x1="254.40" y1="254.70" x2="272.60" y2="254.70" stroke="#000" stroke-width="0.95" stroke-opacity="0.63"/>
<line x1="254.40" y1="265.12" x2="272.60" y2="265.12" stroke="#000" stroke-width="0.95" stroke-opacity="0.63"/>
<line x1="254.40" y1="275.54" x2="272.60" y2="275.54" stroke="#000" stroke-width="0.95" stroke-opacity="0.63"/>
<line x1="254.40" y1="285.96" x2="272.60" y2="285.96" stroke="#000" stroke-width="0.95" stroke-opacity="0.63"/>
<line x1="254.40" y1="296.38" x2="272.60" y2="296.38" stroke="#000" stroke-width="0.95" stroke-opacity="0.63"/>
<line x1="254.40" y1="306.80" x2="272.60" y2="306.80" stroke="#000" stroke-width="0.95" stroke-opacity="0.63"/>
<line x1="254.40" y1="317.22" x2="272.60" y2="317.22" stroke="#000" stroke-width="0.95" stroke-opacity="0.63"/>
<line x1="254.40" y1="327.64" x2="272.60" y2="327.64" stroke="#000" stroke-width="0.95" stroke-opacity="0.63"/>
<line x1="254.40" y1="338.06" x2="272.60" y2="338.06" stroke="#000" stroke-width="0.95" stroke-opacity="0.63"/>
<line x1="254.40" y1="348.48" x2="272.60" y2="348.48" stroke="#000" stroke-width="0.95" stroke-opacity="0.63"/>
<line x1="254.40" y1="358.90" x2="272.60" y2="358.90" stroke="#000" stroke-width="0.95" stroke-opacity="0.63"/>
<line x1="254.40" y1="369.32" x2="272.60" y2="369.32" stroke="#000" stroke-width="0.95" stroke-opacity="0.63"/>
<line x1="254.40" y1="379.74" x2="272.60" y2="379.74" stroke="#000" stroke-width="0.95" stroke-opacity="0.63"/>
<line x1="254.40" y1="390.16" x2="272.60" y2="390.16" stroke="#000" stroke-width="0.95" stroke-opacity="0.63"/>
<line x1="254.40" y1="400.58" x2="272.60" y2="400.58" stroke="#000" stroke-width="0.95" stroke-opacity="0.63"/>
<line x1="254.40" y1="411.00" x2="272.60" y2="411.00" stroke="#000" stroke-width="0.95" stroke-opacity="0.63"/>
<line x1="254.40" y1="421.42" x2="272.60" y2="421.42" stroke="#000" stroke-width="0.95" stroke-opacity="0.63"/>
<text x="84.70" y="107.01" font-size="8.6" text-anchor="end" textLength="29.6" lengthAdjust="spacingAndGlyphs">A*01:01</text>
<text x="84.70" y="117.41" font-size="8.6" text-anchor="end" textLength="29.6" lengthAdjust="spacingAndGlyphs">A*02:01</text>
<text x="84.70" y="127.81" font-size="8.6" text-anchor="end" textLength="29.6" lengthAdjust="spacingAndGlyphs">A*02:03</text>
<text x="84.70" y="138.21" font-size="8.6" text-anchor="end" textLength="29.6" lengthAdjust="spacingAndGlyphs">A*02:06</text>
<text x="84.70" y="148.61" font-size="8.6" text-anchor="end" textLength="29.6" lengthAdjust="spacingAndGlyphs">A*03:01</text>
<text x="84.70" y="159.01" font-size="8.6" text-anchor="end" textLength="29.6" lengthAdjust="spacingAndGlyphs">A*11:01</text>
<text x="84.70" y="169.41" font-size="8.6" text-anchor="end" textLength="29.6" lengthAdjust="spacingAndGlyphs">A*11:02</text>
<text x="84.70" y="179.81" font-size="8.6" text-anchor="end" textLength="29.6" lengthAdjust="spacingAndGlyphs">A*23:01</text>
<text x="84.70" y="190.21" font-size="8.6" text-anchor="end" textLength="29.6" lengthAdjust="spacingAndGlyphs">A*24:02</text>
<text x="84.70" y="200.61" font-size="8.6" text-anchor="end" textLength="29.6" lengthAdjust="spacingAndGlyphs">A*24:03</text>
<text x="84.70" y="211.01" font-size="8.6" text-anchor="end" textLength="29.6" lengthAdjust="spacingAndGlyphs">A*25:01</text>
<text x="84.70" y="221.41" font-size="8.6" text-anchor="end" textLength="29.6" lengthAdjust="spacingAndGlyphs">A*26:01</text>
<text x="84.70" y="231.81" font-size="8.6" text-anchor="end" textLength="29.6" lengthAdjust="spacingAndGlyphs">A*29:01</text>
<text x="84.70" y="242.21" font-size="8.6" text-anchor="end" textLength="29.6" lengthAdjust="spacingAndGlyphs">A*29:02</text>
<text x="84.70" y="252.61" font-size="8.6" text-anchor="end" textLength="29.6" lengthAdjust="spacingAndGlyphs">A*30:01</text>
<text x="84.70" y="263.01" font-size="8.6" text-anchor="end" textLength="29.6" lengthAdjust="spacingAndGlyphs">A*30:02</text>
<text x="84.70" y="273.41" font-size="8.6" text-anchor="end" textLength="29.6" lengthAdjust="spacingAndGlyphs">A*31:01</text>
<text x="84.70" y="283.81" font-size="8.6" text-anchor="end" textLength="29.6" lengthAdjust="spacingAndGlyphs">A*32:01</text>
<text x="84.70" y="294.21" font-size="8.6" text-anchor="end" textLength="29.6" lengthAdjust="spacingAndGlyphs">A*33:01</text>
<text x="84.70" y="304.61" font-size="8.6" text-anchor="end" textLength="29.6" lengthAdjust="spacingAndGlyphs">A*33:03</text>
<text x="84.70" y="315.01" font-size="8.6" text-anchor="end" textLength="29.6" lengthAdjust="spacingAndGlyphs">A*34:01</text>
<text x="84.70" y="325.41" font-size="8.6" text-anchor="end" textLength="29.6" lengthAdjust="spacingAndGlyphs">A*34:02</text>
<text x="84.70" y="335.81" font-size="8.6" text-anchor="end" textLength="29.6" lengthAdjust="spacingAndGlyphs">A*36:01</text>
<text x="84.70" y="346.21" font-size="8.6" text-anchor="end" textLength="29.6" lengthAdjust="spacingAndGlyphs">A*43:01</text>
<text x="84.70" y="356.61" font-size="8.6" text-anchor="end" textLength="29.6" lengthAdjust="spacingAndGlyphs">A*66:01</text>
<text x="84.70" y="367.01" font-size="8.6" text-anchor="end" textLength="29.6" lengthAdjust="spacingAndGlyphs">A*66:02</text>
<text x="84.70" y="377.41" font-size="8.6" text-anchor="end" textLength="29.6" lengthAdjust="spacingAndGlyphs">A*68:01</text>
<text x="84.70" y="387.81" font-size="8.6" text-anchor="end" textLength="29.6" lengthAdjust="spacingAndGlyphs">A*68:02</text>
<text x="84.70" y="398.21" font-size="8.6" text-anchor="end" textLength="29.6" lengthAdjust="spacingAndGlyphs">A*69:01</text>
<text x="84.70" y="408.61" font-size="8.6" text-anchor="end" textLength="29.6" lengthAdjust="spacingAndGlyphs">A*74:01</text>
<text x="84.70" y="419.01" font-size="8.6" text-anchor="end" textLength="29.6" lengthAdjust="spacingAndGlyphs">A*80:01</text>
<text x="101.10" y="59.60" font-size="10.3" text-anchor="middle" textLength="10.6" lengthAdjust="spacingAndGlyphs">01</text>
<line x1="92.80" y1="62.70" x2="108.80" y2="62.70" stroke="#333" stroke-width="1.0"/>
<line x1="94.15" y1="75.60" x2="99.15" y2="75.60" stroke="#333333" stroke-width="0.95"/>
<line x1="96.65" y1="73.00" x2="96.65" y2="78.20" stroke="#333333" stroke-width="0.95"/>
<line x1="103.25" y1="75.60" x2="108.25" y2="75.60" stroke="#333333" stroke-width="0.95"/>
<line x1="93.65" y1="88.50" x2="98.65" y2="88.50" stroke="#333333" stroke-width="0.95"/>
<line x1="103.25" y1="88.50" x2="108.25" y2="88.50" stroke="#333333" stroke-width="0.95"/>
<line x1="105.75" y1="85.90" x2="105.75" y2="91.10" stroke="#333333" stroke-width="0.95"/>
<text x="128.30" y="59.60" font-size="10.3" text-anchor="middle" textLength="10.6" lengthAdjust="spacingAndGlyphs">02</text>
<line x1="120.00" y1="62.70" x2="136.00" y2="62.70" stroke="#333" stroke-width="1.0"/>
<line x1="121.35" y1="75.60" x2="126.35" y2="75.60" stroke="#333333" stroke-width="0.95"/>
<line x1="123.85" y1="73.00" x2="123.85" y2="78.20" stroke="#333333" stroke-width="0.95"/>
<line x1="130.45" y1="75.60" x2="135.45" y2="75.60" stroke="#333333" stroke-width="0.95"/>
<line x1="120.85" y1="88.50" x2="125.85" y2="88.50" stroke="#333333" stroke-width="0.95"/>
<line x1="130.45" y1="88.50" x2="135.45" y2="88.50" stroke="#333333" stroke-width="0.95"/>
<line x1="132.95" y1="85.90" x2="132.95" y2="91.10" stroke="#333333" stroke-width="0.95"/>
<text x="155.50" y="59.60" font-size="10.3" text-anchor="middle" textLength="10.6" lengthAdjust="spacingAndGlyphs">03</text>
<line x1="147.20" y1="62.70" x2="163.20" y2="62.70" stroke="#333" stroke-width="1.0"/>
<line x1="148.55" y1="75.60" x2="153.55" y2="75.60" stroke="#333333" stroke-width="0.95"/>
<line x1="151.05" y1="73.00" x2="151.05" y2="78.20" stroke="#333333" stroke-width="0.95"/>
<line x1="157.65" y1="75.60" x2="162.65" y2="75.60" stroke="#333333" stroke-width="0.95"/>
<line x1="148.05" y1="88.50" x2="153.05" y2="88.50" stroke="#333333" stroke-width="0.95"/>
<line x1="157.65" y1="88.50" x2="162.65" y2="88.50" stroke="#333333" stroke-width="0.95"/>
<line x1="160.15" y1="85.90" x2="160.15" y2="91.10" stroke="#333333" stroke-width="0.95"/>
<text x="182.70" y="59.60" font-size="10.3" text-anchor="middle" textLength="10.6" lengthAdjust="spacingAndGlyphs">04</text>
<line x1="174.40" y1="62.70" x2="190.40" y2="62.70" stroke="#333" stroke-width="1.0"/>
<line x1="175.75" y1="75.60" x2="180.75" y2="75.60" stroke="#333333" stroke-width="0.95"/>
<line x1="178.25" y1="73.00" x2="178.25" y2="78.20" stroke="#333333" stroke-width="0.95"/>
<line x1="184.85" y1="75.60" x2="189.85" y2="75.60" stroke="#333333" stroke-width="0.95"/>
<line x1="175.25" y1="88.50" x2="180.25" y2="88.50" stroke="#333333" stroke-width="0.95"/>
<line x1="184.85" y1="88.50" x2="189.85" y2="88.50" stroke="#333333" stroke-width="0.95"/>
<line x1="187.35" y1="85.90" x2="187.35" y2="91.10" stroke="#333333" stroke-width="0.95"/>
<text x="209.90" y="59.60" font-size="10.3" text-anchor="middle" textLength="10.6" lengthAdjust="spacingAndGlyphs">05</text>
<line x1="201.60" y1="62.70" x2="217.60" y2="62.70" stroke="#333" stroke-width="1.0"/>
<line x1="202.95" y1="75.60" x2="207.95" y2="75.60" stroke="#333333" stroke-width="0.95"/>
<line x1="205.45" y1="73.00" x2="205.45" y2="78.20" stroke="#333333" stroke-width="0.95"/>
<line x1="212.05" y1="75.60" x2="217.05" y2="75.60" stroke="#333333" stroke-width="0.95"/>
<line x1="202.45" y1="88.50" x2="207.45" y2="88.50" stroke="#333333" stroke-width="0.95"/>
<line x1="212.05" y1="88.50" x2="217.05" y2="88.50" stroke="#333333" stroke-width="0.95"/>
<line x1="214.55" y1="85.90" x2="214.55" y2="91.10" stroke="#333333" stroke-width="0.95"/>
<text x="237.10" y="59.60" font-size="10.3" text-anchor="middle" textLength="10.6" lengthAdjust="spacingAndGlyphs">06</text>
<line x1="228.80" y1="62.70" x2="244.80" y2="62.70" stroke="#333" stroke-width="1.0"/>
<line x1="230.15" y1="75.60" x2="235.15" y2="75.60" stroke="#333333" stroke-width="0.95"/>
<line x1="232.65" y1="73.00" x2="232.65" y2="78.20" stroke="#333333" stroke-width="0.95"/>
<line x1="239.25" y1="75.60" x2="244.25" y2="75.60" stroke="#333333" stroke-width="0.95"/>
<line x1="229.65" y1="88.50" x2="234.65" y2="88.50" stroke="#333333" stroke-width="0.95"/>
<line x1="239.25" y1="88.50" x2="244.25" y2="88.50" stroke="#333333" stroke-width="0.95"/>
<line x1="241.75" y1="85.90" x2="241.75" y2="91.10" stroke="#333333" stroke-width="0.95"/>
<text x="264.30" y="59.60" font-size="10.3" text-anchor="middle" textLength="10.6" lengthAdjust="spacingAndGlyphs">07</text>
<line x1="256.00" y1="62.70" x2="272.00" y2="62.70" stroke="#333" stroke-width="1.0"/>
<line x1="257.35" y1="75.60" x2="262.35" y2="75.60" stroke="#333333" stroke-width="0.95"/>
<line x1="259.85" y1="73.00" x2="259.85" y2="78.20" stroke="#333333" stroke-width="0.95"/>
<line x1="266.45" y1="75.60" x2="271.45" y2="75.60" stroke="#333333" stroke-width="0.95"/>
<line x1="256.85" y1="88.50" x2="261.85" y2="88.50" stroke="#333333" stroke-width="0.95"/>
<line x1="266.45" y1="88.50" x2="271.45" y2="88.50" stroke="#333333" stroke-width="0.95"/>
<line x1="268.95" y1="85.90" x2="268.95" y2="91.10" stroke="#333333" stroke-width="0.95"/>
<rect x="393.90" y="98.30" width="9.00" height="10.56" fill="#c4e4f5"/>
<rect x="402.90" y="98.30" width="9.00" height="10.56" fill="#72c1e8"/>
<rect x="429.80" y="98.30" width="9.00" height="10.56" fill="#9fd3ef"/>
<rect x="447.70" y="98.30" width="9.00" height="10.56" fill="#fbd6d9"/>
<rect x="456.70" y="98.30" width="9.00" height="10.56" fill="#57bbe6"/>
<rect x="474.60" y="98.30" width="9.00" height="10.56" fill="#fdedef"/>
<rect x="483.60" y="98.30" width="9.00" height="10.56" fill="#13a3de"/>
<rect x="501.50" y="98.30" width="9.00" height="10.56" fill="#fdedef"/>
<rect x="510.50" y="98.30" width="9.00" height="10.56" fill="#1287cf"/>
<rect x="367.00" y="108.86" width="9.00" height="10.56" fill="#fef6f6"/>
<rect x="376.00" y="108.86" width="9.00" height="10.56" fill="#fef6f6"/>
<rect x="474.60" y="108.86" width="9.00" height="10.56" fill="#e1f1fa"/>
<rect x="483.60" y="108.86" width="9.00" height="10.56" fill="#fcdcdf"/>
<rect x="510.50" y="108.86" width="9.00" height="10.56" fill="#1287cf"/>
<rect x="376.00" y="119.43" width="9.00" height="10.56" fill="#fef6f6"/>
<rect x="402.90" y="119.43" width="9.00" height="10.56" fill="#fef4f5"/>
<rect x="447.70" y="119.43" width="9.00" height="10.56" fill="#fce0e2"/>
<rect x="456.70" y="119.43" width="9.00" height="10.56" fill="#aedaf1"/>
<rect x="483.60" y="119.43" width="9.00" height="10.56" fill="#9fd3ef"/>
<rect x="510.50" y="119.43" width="9.00" height="10.56" fill="#f3f9fd"/>
<rect x="376.00" y="129.99" width="9.00" height="10.56" fill="#fdecee"/>
<rect x="393.90" y="129.99" width="9.00" height="10.56" fill="#dbeef9"/>
<rect x="402.90" y="129.99" width="9.00" height="10.56" fill="#fef4f5"/>
<rect x="447.70" y="129.99" width="9.00" height="10.56" fill="#fdeaec"/>
<rect x="456.70" y="129.99" width="9.00" height="10.56" fill="#92ceed"/>
<rect x="483.60" y="129.99" width="9.00" height="10.56" fill="#72c1e8"/>
<rect x="510.50" y="129.99" width="9.00" height="10.56" fill="#e1f1fa"/>
<rect x="367.00" y="151.12" width="9.00" height="10.56" fill="#fef6f6"/>
<rect x="376.00" y="151.12" width="9.00" height="10.56" fill="#fdecee"/>
<rect x="367.00" y="161.68" width="9.00" height="10.56" fill="#fdecee"/>
<rect x="376.00" y="161.68" width="9.00" height="10.56" fill="#fdecee"/>
<rect x="456.70" y="161.68" width="9.00" height="10.56" fill="#e1f1fa"/>
<rect x="474.60" y="161.68" width="9.00" height="10.56" fill="#fcdcdf"/>
<rect x="483.60" y="161.68" width="9.00" height="10.56" fill="#13a3de"/>
<rect x="367.00" y="172.24" width="9.00" height="10.56" fill="#fef6f6"/>
<rect x="376.00" y="172.24" width="9.00" height="10.56" fill="#fdecee"/>
<rect x="483.60" y="172.24" width="9.00" height="10.56" fill="#c4e4f5"/>
<rect x="367.00" y="182.80" width="9.00" height="10.56" fill="#fef6f6"/>
<rect x="376.00" y="182.80" width="9.00" height="10.56" fill="#fdecee"/>
<rect x="474.60" y="182.80" width="9.00" height="10.56" fill="#fcdcdf"/>
<rect x="483.60" y="182.80" width="9.00" height="10.56" fill="#9fd3ef"/>
<rect x="367.00" y="193.37" width="9.00" height="10.56" fill="#fef6f6"/>
<rect x="376.00" y="193.37" width="9.00" height="10.56" fill="#fef6f6"/>
<rect x="474.60" y="193.37" width="9.00" height="10.56" fill="#fdedef"/>
<rect x="483.60" y="193.37" width="9.00" height="10.56" fill="#13a3de"/>
<rect x="367.00" y="203.93" width="9.00" height="10.56" fill="#fdecee"/>
<rect x="376.00" y="203.93" width="9.00" height="10.56" fill="#fdecee"/>
<rect x="483.60" y="203.93" width="9.00" height="10.56" fill="#9fd3ef"/>
<rect x="367.00" y="214.49" width="9.00" height="10.56" fill="#fce3e5"/>
<rect x="376.00" y="214.49" width="9.00" height="10.56" fill="#fce3e5"/>
<rect x="393.90" y="214.49" width="9.00" height="10.56" fill="#f3f9fd"/>
<rect x="474.60" y="214.49" width="9.00" height="10.56" fill="#e1f1fa"/>
<rect x="483.60" y="214.49" width="9.00" height="10.56" fill="#fdedef"/>
<rect x="483.60" y="225.06" width="9.00" height="10.56" fill="#e1f1fa"/>
<rect x="367.00" y="235.62" width="9.00" height="10.56" fill="#fef6f6"/>
<rect x="376.00" y="235.62" width="9.00" height="10.56" fill="#fef6f6"/>
<rect x="420.80" y="235.62" width="9.00" height="10.56" fill="#def0fa"/>
<rect x="483.60" y="235.62" width="9.00" height="10.56" fill="#72c1e8"/>
<rect x="367.00" y="246.18" width="9.00" height="10.56" fill="#fef6f6"/>
<rect x="376.00" y="246.18" width="9.00" height="10.56" fill="#fdecee"/>
<rect x="474.60" y="246.18" width="9.00" height="10.56" fill="#fcdcdf"/>
<rect x="483.60" y="246.18" width="9.00" height="10.56" fill="#9fd3ef"/>
<rect x="393.90" y="256.75" width="9.00" height="10.56" fill="#edf7fc"/>
<rect x="402.90" y="256.75" width="9.00" height="10.56" fill="#aedaf1"/>
<rect x="447.70" y="256.75" width="9.00" height="10.56" fill="#fbd6d9"/>
<rect x="456.70" y="256.75" width="9.00" height="10.56" fill="#72c1e8"/>
<rect x="501.50" y="256.75" width="9.00" height="10.56" fill="#fdedef"/>
<rect x="510.50" y="256.75" width="9.00" height="10.56" fill="#c4e4f5"/>
<rect x="393.90" y="267.31" width="9.00" height="10.56" fill="#d8edf8"/>
<rect x="402.90" y="267.31" width="9.00" height="10.56" fill="#aedaf1"/>
<rect x="447.70" y="267.31" width="9.00" height="10.56" fill="#fbd6d9"/>
<rect x="456.70" y="267.31" width="9.00" height="10.56" fill="#72c1e8"/>
<rect x="510.50" y="267.31" width="9.00" height="10.56" fill="#9fd3ef"/>
<rect x="367.00" y="277.87" width="9.00" height="10.56" fill="#fef6f6"/>
<rect x="376.00" y="277.87" width="9.00" height="10.56" fill="#fdecee"/>
<rect x="483.60" y="277.87" width="9.00" height="10.56" fill="#46b8e6"/>
<rect x="367.00" y="288.43" width="9.00" height="10.56" fill="#fef6f6"/>
<rect x="376.00" y="288.43" width="9.00" height="10.56" fill="#fef6f6"/>
<rect x="367.00" y="299.00" width="9.00" height="10.56" fill="#fef6f6"/>
<rect x="376.00" y="299.00" width="9.00" height="10.56" fill="#fef6f6"/>
<rect x="474.60" y="299.00" width="9.00" height="10.56" fill="#fef6f7"/>
<rect x="483.60" y="299.00" width="9.00" height="10.56" fill="#46b8e6"/>
<rect x="510.50" y="299.00" width="9.00" height="10.56" fill="#fdedef"/>
<rect x="367.00" y="309.56" width="9.00" height="10.56" fill="#fef6f6"/>
<rect x="376.00" y="309.56" width="9.00" height="10.56" fill="#fef6f6"/>
<rect x="420.80" y="309.56" width="9.00" height="10.56" fill="#e1f1fa"/>
<rect x="474.60" y="309.56" width="9.00" height="10.56" fill="#fdedef"/>
<rect x="483.60" y="309.56" width="9.00" height="10.56" fill="#34b4e4"/>
<rect x="510.50" y="309.56" width="9.00" height="10.56" fill="#fdedef"/>
<rect x="367.00" y="320.12" width="9.00" height="10.56" fill="#fef6f6"/>
<rect x="376.00" y="320.12" width="9.00" height="10.56" fill="#fef6f6"/>
<rect x="393.90" y="320.12" width="9.00" height="10.56" fill="#e7f4fb"/>
<rect x="402.90" y="320.12" width="9.00" height="10.56" fill="#e7f4fb"/>
<rect x="447.70" y="320.12" width="9.00" height="10.56" fill="#fbd6d9"/>
<rect x="456.70" y="320.12" width="9.00" height="10.56" fill="#46b8e6"/>
<rect x="474.60" y="320.12" width="9.00" height="10.56" fill="#fdedef"/>
<rect x="483.60" y="320.12" width="9.00" height="10.56" fill="#1595d6"/>
<rect x="501.50" y="320.12" width="9.00" height="10.56" fill="#fce4e7"/>
<rect x="510.50" y="320.12" width="9.00" height="10.56" fill="#1287cf"/>
<rect x="367.00" y="330.69" width="9.00" height="10.56" fill="#fef6f6"/>
<rect x="376.00" y="330.69" width="9.00" height="10.56" fill="#fef6f6"/>
<rect x="393.90" y="330.69" width="9.00" height="10.56" fill="#e7f4fb"/>
<rect x="402.90" y="330.69" width="9.00" height="10.56" fill="#e7f4fb"/>
<rect x="447.70" y="330.69" width="9.00" height="10.56" fill="#fbd6d9"/>
<rect x="456.70" y="330.69" width="9.00" height="10.56" fill="#72c1e8"/>
<rect x="474.60" y="330.69" width="9.00" height="10.56" fill="#fdedef"/>
<rect x="483.60" y="330.69" width="9.00" height="10.56" fill="#18ace2"/>
<rect x="510.50" y="330.69" width="9.00" height="10.56" fill="#c4e4f5"/>
<rect x="376.00" y="341.25" width="9.00" height="10.56" fill="#fef6f6"/>
<rect x="447.70" y="341.25" width="9.00" height="10.56" fill="#fbd6d9"/>
<rect x="456.70" y="341.25" width="9.00" height="10.56" fill="#72c1e8"/>
<rect x="474.60" y="341.25" width="9.00" height="10.56" fill="#fcdcdf"/>
<rect x="483.60" y="341.25" width="9.00" height="10.56" fill="#4eb9e6"/>
<rect x="510.50" y="341.25" width="9.00" height="10.56" fill="#c4e4f5"/>
<rect x="420.80" y="351.81" width="9.00" height="10.56" fill="#9fd3ef"/>
<rect x="447.70" y="351.81" width="9.00" height="10.56" fill="#fdeaec"/>
<rect x="456.70" y="351.81" width="9.00" height="10.56" fill="#c4e4f5"/>
<rect x="474.60" y="351.81" width="9.00" height="10.56" fill="#fdedef"/>
<rect x="483.60" y="351.81" width="9.00" height="10.56" fill="#57bbe6"/>
<rect x="501.50" y="351.81" width="9.00" height="10.56" fill="#fdedef"/>
<rect x="510.50" y="351.81" width="9.00" height="10.56" fill="#1287cf"/>
<rect x="420.80" y="362.38" width="9.00" height="10.56" fill="#c4e4f5"/>
<rect x="429.80" y="362.38" width="9.00" height="10.56" fill="#c4e4f5"/>
<rect x="447.70" y="362.38" width="9.00" height="10.56" fill="#fdeaec"/>
<rect x="456.70" y="362.38" width="9.00" height="10.56" fill="#9fd3ef"/>
<rect x="483.60" y="362.38" width="9.00" height="10.56" fill="#72c1e8"/>
<rect x="501.50" y="362.38" width="9.00" height="10.56" fill="#fcdcdf"/>
<rect x="510.50" y="362.38" width="9.00" height="10.56" fill="#1287cf"/>
<rect x="376.00" y="372.94" width="9.00" height="10.56" fill="#fdecee"/>
<rect x="367.00" y="383.50" width="9.00" height="10.56" fill="#fef6f6"/>
<rect x="376.00" y="383.50" width="9.00" height="10.56" fill="#fdecee"/>
<rect x="367.00" y="394.06" width="9.00" height="10.56" fill="#fdecee"/>
<rect x="376.00" y="394.06" width="9.00" height="10.56" fill="#fdecee"/>
<rect x="376.00" y="404.63" width="9.00" height="10.56" fill="#fef6f6"/>
<rect x="474.60" y="404.63" width="9.00" height="10.56" fill="#fcdcdf"/>
<rect x="483.60" y="404.63" width="9.00" height="10.56" fill="#c4e4f5"/>
<rect x="367.00" y="415.19" width="9.00" height="10.56" fill="#fef6f6"/>
<rect x="376.00" y="415.19" width="9.00" height="10.56" fill="#fef6f6"/>
<rect x="393.90" y="415.19" width="9.00" height="10.56" fill="#eaf5fc"/>
<rect x="402.90" y="415.19" width="9.00" height="10.56" fill="#cae7f6"/>
<rect x="447.70" y="415.19" width="9.00" height="10.56" fill="#fbd6d9"/>
<rect x="456.70" y="415.19" width="9.00" height="10.56" fill="#9fd3ef"/>
<rect x="510.50" y="415.19" width="9.00" height="10.56" fill="#e1f1fa"/>
<rect x="376.00" y="425.75" width="9.00" height="10.56" fill="#fef6f6"/>
<rect x="393.90" y="425.75" width="9.00" height="10.56" fill="#e7f4fb"/>
<rect x="402.90" y="425.75" width="9.00" height="10.56" fill="#c4e4f5"/>
<rect x="447.70" y="425.75" width="9.00" height="10.56" fill="#fbd6d9"/>
<rect x="456.70" y="425.75" width="9.00" height="10.56" fill="#9fd3ef"/>
<rect x="483.60" y="425.75" width="9.00" height="10.56" fill="#13a3de"/>
<rect x="510.50" y="425.75" width="9.00" height="10.56" fill="#1287cf"/>
<rect x="367.00" y="436.32" width="9.00" height="10.56" fill="#fef6f6"/>
<rect x="376.00" y="436.32" width="9.00" height="10.56" fill="#fef6f6"/>
<rect x="393.90" y="436.32" width="9.00" height="10.56" fill="#edf7fc"/>
<rect x="447.70" y="436.32" width="9.00" height="10.56" fill="#fdeaec"/>
<rect x="367.00" y="446.88" width="9.00" height="10.56" fill="#fef6f6"/>
<rect x="376.00" y="446.88" width="9.00" height="10.56" fill="#fef6f6"/>
<rect x="393.90" y="446.88" width="9.00" height="10.56" fill="#edf7fc"/>
<rect x="447.70" y="446.88" width="9.00" height="10.56" fill="#fdeaec"/>
<rect x="367.00" y="457.44" width="9.00" height="10.56" fill="#fef6f6"/>
<rect x="376.00" y="457.44" width="9.00" height="10.56" fill="#fef6f6"/>
<rect x="474.60" y="457.44" width="9.00" height="10.56" fill="#fdedef"/>
<rect x="483.60" y="457.44" width="9.00" height="10.56" fill="#13a3de"/>
<rect x="376.00" y="468.01" width="9.00" height="10.56" fill="#fef6f6"/>
<rect x="474.60" y="468.01" width="9.00" height="10.56" fill="#fdedef"/>
<rect x="483.60" y="468.01" width="9.00" height="10.56" fill="#60bde7"/>
<rect x="376.00" y="478.57" width="9.00" height="10.56" fill="#fef6f6"/>
<rect x="483.60" y="478.57" width="9.00" height="10.56" fill="#69bfe8"/>
<rect x="367.00" y="489.13" width="9.00" height="10.56" fill="#fdecee"/>
<rect x="376.00" y="489.13" width="9.00" height="10.56" fill="#fdecee"/>
<rect x="420.80" y="489.13" width="9.00" height="10.56" fill="#e1f1fa"/>
<rect x="483.60" y="489.13" width="9.00" height="10.56" fill="#88caec"/>
<rect x="376.00" y="499.69" width="9.00" height="10.56" fill="#fef6f6"/>
<rect x="420.80" y="499.69" width="9.00" height="10.56" fill="#9fd3ef"/>
<rect x="429.80" y="499.69" width="9.00" height="10.56" fill="#e1f1fa"/>
<rect x="456.70" y="499.69" width="9.00" height="10.56" fill="#e1f1fa"/>
<rect x="474.60" y="499.69" width="9.00" height="10.56" fill="#e1f1fa"/>
<rect x="483.60" y="499.69" width="9.00" height="10.56" fill="#60bde7"/>
<rect x="367.00" y="510.26" width="9.00" height="10.56" fill="#fef6f6"/>
<rect x="376.00" y="510.26" width="9.00" height="10.56" fill="#fef6f6"/>
<rect x="420.80" y="510.26" width="9.00" height="10.56" fill="#c4e4f5"/>
<rect x="429.80" y="510.26" width="9.00" height="10.56" fill="#c4e4f5"/>
<rect x="447.70" y="510.26" width="9.00" height="10.56" fill="#fdeaec"/>
<rect x="456.70" y="510.26" width="9.00" height="10.56" fill="#c4e4f5"/>
<rect x="474.60" y="510.26" width="9.00" height="10.56" fill="#fdedef"/>
<rect x="483.60" y="510.26" width="9.00" height="10.56" fill="#13a3de"/>
<rect x="510.50" y="510.26" width="9.00" height="10.56" fill="#e1f1fa"/>
<rect x="367.00" y="520.82" width="9.00" height="10.56" fill="#fef6f6"/>
<rect x="429.80" y="520.82" width="9.00" height="10.56" fill="#e1f1fa"/>
<rect x="447.70" y="520.82" width="9.00" height="10.56" fill="#fdeaec"/>
<rect x="456.70" y="520.82" width="9.00" height="10.56" fill="#c4e4f5"/>
<rect x="474.60" y="520.82" width="9.00" height="10.56" fill="#fdedef"/>
<rect x="483.60" y="520.82" width="9.00" height="10.56" fill="#13a3de"/>
<rect x="510.50" y="520.82" width="9.00" height="10.56" fill="#c4e4f5"/>
<rect x="340.10" y="531.38" width="9.00" height="10.56" fill="#1287cf"/>
<rect x="420.80" y="531.38" width="9.00" height="10.56" fill="#1287cf"/>
<rect x="429.80" y="531.38" width="9.00" height="10.56" fill="#fcdcdf"/>
<rect x="474.60" y="531.38" width="9.00" height="10.56" fill="#fdedef"/>
<rect x="483.60" y="531.38" width="9.00" height="10.56" fill="#34b4e4"/>
<rect x="340.10" y="541.95" width="9.00" height="10.56" fill="#1287cf"/>
<rect x="420.80" y="541.95" width="9.00" height="10.56" fill="#1287cf"/>
<rect x="429.80" y="541.95" width="9.00" height="10.56" fill="#fdedef"/>
<rect x="474.60" y="541.95" width="9.00" height="10.56" fill="#fdedef"/>
<rect x="483.60" y="541.95" width="9.00" height="10.56" fill="#13a3de"/>
<rect x="340.10" y="552.51" width="9.00" height="10.56" fill="#1287cf"/>
<rect x="349.10" y="552.51" width="9.00" height="10.56" fill="#e1f1fa"/>
<rect x="420.80" y="552.51" width="9.00" height="10.56" fill="#1287cf"/>
<rect x="429.80" y="552.51" width="9.00" height="10.56" fill="#fdedef"/>
<rect x="483.60" y="552.51" width="9.00" height="10.56" fill="#c4e4f5"/>
<rect x="420.80" y="563.07" width="9.00" height="10.56" fill="#b2dcf2"/>
<rect x="456.70" y="563.07" width="9.00" height="10.56" fill="#e1f1fa"/>
<rect x="474.60" y="563.07" width="9.00" height="10.56" fill="#fdedef"/>
<rect x="420.80" y="573.63" width="9.00" height="10.56" fill="#7bc5e9"/>
<rect x="429.80" y="573.63" width="9.00" height="10.56" fill="#d8edf8"/>
<rect x="447.70" y="573.63" width="9.00" height="10.56" fill="#fdeaec"/>
<rect x="456.70" y="573.63" width="9.00" height="10.56" fill="#e1f1fa"/>
<rect x="474.60" y="573.63" width="9.00" height="10.56" fill="#fcdcdf"/>
<rect x="483.60" y="573.63" width="9.00" height="10.56" fill="#19aee3"/>
<rect x="510.50" y="573.63" width="9.00" height="10.56" fill="#c4e4f5"/>
<rect x="402.90" y="584.20" width="9.00" height="10.56" fill="#9fd3ef"/>
<rect x="447.70" y="584.20" width="9.00" height="10.56" fill="#fbd6d9"/>
<rect x="456.70" y="584.20" width="9.00" height="10.56" fill="#57bbe6"/>
<rect x="510.50" y="584.20" width="9.00" height="10.56" fill="#e1f1fa"/>
<rect x="367.00" y="594.76" width="9.00" height="10.56" fill="#fef6f6"/>
<rect x="447.70" y="594.76" width="9.00" height="10.56" fill="#fdeaec"/>
<rect x="474.60" y="594.76" width="9.00" height="10.56" fill="#fdedef"/>
<rect x="483.60" y="594.76" width="9.00" height="10.56" fill="#46b8e6"/>
<rect x="393.90" y="605.32" width="9.00" height="10.56" fill="#dbeef9"/>
<rect x="402.90" y="605.32" width="9.00" height="10.56" fill="#9fd3ef"/>
<rect x="429.80" y="605.32" width="9.00" height="10.56" fill="#c4e4f5"/>
<rect x="447.70" y="605.32" width="9.00" height="10.56" fill="#fbd6d9"/>
<rect x="456.70" y="605.32" width="9.00" height="10.56" fill="#57bbe6"/>
<rect x="474.60" y="605.32" width="9.00" height="10.56" fill="#fdedef"/>
<rect x="483.60" y="605.32" width="9.00" height="10.56" fill="#34b4e4"/>
<rect x="501.50" y="605.32" width="9.00" height="10.56" fill="#fcdcdf"/>
<rect x="510.50" y="605.32" width="9.00" height="10.56" fill="#1287cf"/>
<rect x="483.60" y="615.89" width="9.00" height="10.56" fill="#8dccec"/>
<line x1="340.10" y1="98.30" x2="340.10" y2="626.45" stroke="#000" stroke-width="0.95" stroke-opacity="0.63"/>
<line x1="349.10" y1="98.30" x2="349.10" y2="626.45" stroke="#000" stroke-width="0.95" stroke-opacity="0.63"/>
<line x1="358.10" y1="98.30" x2="358.10" y2="626.45" stroke="#000" stroke-width="0.95" stroke-opacity="0.63"/>
<line x1="340.10" y1="98.30" x2="358.10" y2="98.30" stroke="#000" stroke-width="0.95" stroke-opacity="0.63"/>
<line x1="340.10" y1="108.86" x2="358.10" y2="108.86" stroke="#000" stroke-width="0.95" stroke-opacity="0.63"/>
<line x1="340.10" y1="119.43" x2="358.10" y2="119.43" stroke="#000" stroke-width="0.95" stroke-opacity="0.63"/>
<line x1="340.10" y1="129.99" x2="358.10" y2="129.99" stroke="#000" stroke-width="0.95" stroke-opacity="0.63"/>
<line x1="340.10" y1="140.55" x2="358.10" y2="140.55" stroke="#000" stroke-width="0.95" stroke-opacity="0.63"/>
<line x1="340.10" y1="151.12" x2="358.10" y2="151.12" stroke="#000" stroke-width="0.95" stroke-opacity="0.63"/>
<line x1="340.10" y1="161.68" x2="358.10" y2="161.68" stroke="#000" stroke-width="0.95" stroke-opacity="0.63"/>
<line x1="340.10" y1="172.24" x2="358.10" y2="172.24" stroke="#000" stroke-width="0.95" stroke-opacity="0.63"/>
<line x1="340.10" y1="182.80" x2="358.10" y2="182.80" stroke="#000" stroke-width="0.95" stroke-opacity="0.63"/>
<line x1="340.10" y1="193.37" x2="358.10" y2="193.37" stroke="#000" stroke-width="0.95" stroke-opacity="0.63"/>
<line x1="340.10" y1="203.93" x2="358.10" y2="203.93" stroke="#000" stroke-width="0.95" stroke-opacity="0.63"/>
<line x1="340.10" y1="214.49" x2="358.10" y2="214.49" stroke="#000" stroke-width="0.95" stroke-opacity="0.63"/>
<line x1="340.10" y1="225.06" x2="358.10" y2="225.06" stroke="#000" stroke-width="0.95" stroke-opacity="0.63"/>
<line x1="340.10" y1="235.62" x2="358.10" y2="235.62" stroke="#000" stroke-width="0.95" stroke-opacity="0.63"/>
<line x1="340.10" y1="246.18" x2="358.10" y2="246.18" stroke="#000" stroke-width="0.95" stroke-opacity="0.63"/>
<line x1="340.10" y1="256.75" x2="358.10" y2="256.75" stroke="#000" stroke-width="0.95" stroke-opacity="0.63"/>
<line x1="340.10" y1="267.31" x2="358.10" y2="267.31" stroke="#000" stroke-width="0.95" stroke-opacity="0.63"/>
<line x1="340.10" y1="277.87" x2="358.10" y2="277.87" stroke="#000" stroke-width="0.95" stroke-opacity="0.63"/>
<line x1="340.10" y1="288.43" x2="358.10" y2="288.43" stroke="#000" stroke-width="0.95" stroke-opacity="0.63"/>
<line x1="340.10" y1="299.00" x2="358.10" y2="299.00" stroke="#000" stroke-width="0.95" stroke-opacity="0.63"/>
<line x1="340.10" y1="309.56" x2="358.10" y2="309.56" stroke="#000" stroke-width="0.95" stroke-opacity="0.63"/>
<line x1="340.10" y1="320.12" x2="358.10" y2="320.12" stroke="#000" stroke-width="0.95" stroke-opacity="0.63"/>
<line x1="340.10" y1="330.69" x2="358.10" y2="330.69" stroke="#000" stroke-width="0.95" stroke-opacity="0.63"/>
<line x1="340.10" y1="341.25" x2="358.10" y2="341.25" stroke="#000" stroke-width="0.95" stroke-opacity="0.63"/>
<line x1="340.10" y1="351.81" x2="358.10" y2="351.81" stroke="#000" stroke-width="0.95" stroke-opacity="0.63"/>
<line x1="340.10" y1="362.38" x2="358.10" y2="362.38" stroke="#000" stroke-width="0.95" stroke-opacity="0.63"/>
<line x1="340.10" y1="372.94" x2="358.10" y2="372.94" stroke="#000" stroke-width="0.95" stroke-opacity="0.63"/>
<line x1="340.10" y1="383.50" x2="358.10" y2="383.50" stroke="#000" stroke-width="0.95" stroke-opacity="0.63"/>
<line x1="340.10" y1="394.06" x2="358.10" y2="394.06" stroke="#000" stroke-width="0.95" stroke-opacity="0.63"/>
<line x1="340.10" y1="404.63" x2="358.10" y2="404.63" stroke="#000" stroke-width="0.95" stroke-opacity="0.63"/>
<line x1="340.10" y1="415.19" x2="358.10" y2="415.19" stroke="#000" stroke-width="0.95" stroke-opacity="0.63"/>
<line x1="340.10" y1="425.75" x2="358.10" y2="425.75" stroke="#000" stroke-width="0.95" stroke-opacity="0.63"/>
<line x1="340.10" y1="436.32" x2="358.10" y2="436.32" stroke="#000" stroke-width="0.95" stroke-opacity="0.63"/>
<line x1="340.10" y1="446.88" x2="358.10" y2="446.88" stroke="#000" stroke-width="0.95" stroke-opacity="0.63"/>
<line x1="340.10" y1="457.44" x2="358.10" y2="457.44" stroke="#000" stroke-width="0.95" stroke-opacity="0.63"/>
<line x1="340.10" y1="468.01" x2="358.10" y2="468.01" stroke="#000" stroke-width="0.95" stroke-opacity="0.63"/>
<line x1="340.10" y1="478.57" x2="358.10" y2="478.57" stroke="#000" stroke-width="0.95" stroke-opacity="0.63"/>
<line x1="340.10" y1="489.13" x2="358.10" y2="489.13" stroke="#000" stroke-width="0.95" stroke-opacity="0.63"/>
<line x1="340.10" y1="499.69" x2="358.10" y2="499.69" stroke="#000" stroke-width="0.95" stroke-opacity="0.63"/>
<line x1="340.10" y1="510.26" x2="358.10" y2="510.26" stroke="#000" stroke-width="0.95" stroke-opacity="0.63"/>
<line x1="340.10" y1="520.82" x2="358.10" y2="520.82" stroke="#000" stroke-width="0.95" stroke-opacity="0.63"/>
<line x1="340.10" y1="531.38" x2="358.10" y2="531.38" stroke="#000" stroke-width="0.95" stroke-opacity="0.63"/>
<line x1="340.10" y1="541.95" x2="358.10" y2="541.95" stroke="#000" stroke-width="0.95" stroke-opacity="0.63"/>
<line x1="340.10" y1="552.51" x2="358.10" y2="552.51" stroke="#000" stroke-width="0.95" stroke-opacity="0.63"/>
<line x1="340.10" y1="563.07" x2="358.10" y2="563.07" stroke="#000" stroke-width="0.95" stroke-opacity="0.63"/>
<line x1="340.10" y1="573.63" x2="358.10" y2="573.63" stroke="#000" stroke-width="0.95" stroke-opacity="0.63"/>
<line x1="340.10" y1="584.20" x2="358.10" y2="584.20" stroke="#000" stroke-width="0.95" stroke-opacity="0.63"/>
<line x1="340.10" y1="594.76" x2="358.10" y2="594.76" stroke="#000" stroke-width="0.95" stroke-opacity="0.63"/>
<line x1="340.10" y1="605.32" x2="358.10" y2="605.32" stroke="#000" stroke-width="0.95" stroke-opacity="0.63"/>
<line x1="340.10" y1="615.89" x2="358.10" y2="615.89" stroke="#000" stroke-width="0.95" stroke-opacity="0.63"/>
<line x1="340.10" y1="626.45" x2="358.10" y2="626.45" stroke="#000" stroke-width="0.95" stroke-opacity="0.63"/>
<line x1="367.00" y1="98.30" x2="367.00" y2="626.45" stroke="#000" stroke-width="0.95" stroke-opacity="0.63"/>
<line x1="376.00" y1="98.30" x2="376.00" y2="626.45" stroke="#000" stroke-width="0.95" stroke-opacity="0.63"/>
<line x1="385.00" y1="98.30" x2="385.00" y2="626.45" stroke="#000" stroke-width="0.95" stroke-opacity="0.63"/>
<line x1="367.00" y1="98.30" x2="385.00" y2="98.30" stroke="#000" stroke-width="0.95" stroke-opacity="0.63"/>
<line x1="367.00" y1="108.86" x2="385.00" y2="108.86" stroke="#000" stroke-width="0.95" stroke-opacity="0.63"/>
<line x1="367.00" y1="119.43" x2="385.00" y2="119.43" stroke="#000" stroke-width="0.95" stroke-opacity="0.63"/>
<line x1="367.00" y1="129.99" x2="385.00" y2="129.99" stroke="#000" stroke-width="0.95" stroke-opacity="0.63"/>
<line x1="367.00" y1="140.55" x2="385.00" y2="140.55" stroke="#000" stroke-width="0.95" stroke-opacity="0.63"/>
<line x1="367.00" y1="151.12" x2="385.00" y2="151.12" stroke="#000" stroke-width="0.95" stroke-opacity="0.63"/>
<line x1="367.00" y1="161.68" x2="385.00" y2="161.68" stroke="#000" stroke-width="0.95" stroke-opacity="0.63"/>
<line x1="367.00" y1="172.24" x2="385.00" y2="172.24" stroke="#000" stroke-width="0.95" stroke-opacity="0.63"/>
<line x1="367.00" y1="182.80" x2="385.00" y2="182.80" stroke="#000" stroke-width="0.95" stroke-opacity="0.63"/>
<line x1="367.00" y1="193.37" x2="385.00" y2="193.37" stroke="#000" stroke-width="0.95" stroke-opacity="0.63"/>
<line x1="367.00" y1="203.93" x2="385.00" y2="203.93" stroke="#000" stroke-width="0.95" stroke-opacity="0.63"/>
<line x1="367.00" y1="214.49" x2="385.00" y2="214.49" stroke="#000" stroke-width="0.95" stroke-opacity="0.63"/>
<line x1="367.00" y1="225.06" x2="385.00" y2="225.06" stroke="#000" stroke-width="0.95" stroke-opacity="0.63"/>
<line x1="367.00" y1="235.62" x2="385.00" y2="235.62" stroke="#000" stroke-width="0.95" stroke-opacity="0.63"/>
<line x1="367.00" y1="246.18" x2="385.00" y2="246.18" stroke="#000" stroke-width="0.95" stroke-opacity="0.63"/>
<line x1="367.00" y1="256.75" x2="385.00" y2="256.75" stroke="#000" stroke-width="0.95" stroke-opacity="0.63"/>
<line x1="367.00" y1="267.31" x2="385.00" y2="267.31" stroke="#000" stroke-width="0.95" stroke-opacity="0.63"/>
<line x1="367.00" y1="277.87" x2="385.00" y2="277.87" stroke="#000" stroke-width="0.95" stroke-opacity="0.63"/>
<line x1="367.00" y1="288.43" x2="385.00" y2="288.43" stroke="#000" stroke-width="0.95" stroke-opacity="0.63"/>
<line x1="367.00" y1="299.00" x2="385.00" y2="299.00" stroke="#000" stroke-width="0.95" stroke-opacity="0.63"/>
<line x1="367.00" y1="309.56" x2="385.00" y2="309.56" stroke="#000" stroke-width="0.95" stroke-opacity="0.63"/>
<line x1="367.00" y1="320.12" x2="385.00" y2="320.12" stroke="#000" stroke-width="0.95" stroke-opacity="0.63"/>
<line x1="367.00" y1="330.69" x2="385.00" y2="330.69" stroke="#000" stroke-width="0.95" stroke-opacity="0.63"/>
<line x1="367.00" y1="341.25" x2="385.00" y2="341.25" stroke="#000" stroke-width="0.95" stroke-opacity="0.63"/>
<line x1="367.00" y1="351.81" x2="385.00" y2="351.81" stroke="#000" stroke-width="0.95" stroke-opacity="0.63"/>
<line x1="367.00" y1="362.38" x2="385.00" y2="362.38" stroke="#000" stroke-width="0.95" stroke-opacity="0.63"/>
<line x1="367.00" y1="372.94" x2="385.00" y2="372.94" stroke="#000" stroke-width="0.95" stroke-opacity="0.63"/>
<line x1="367.00" y1="383.50" x2="385.00" y2="383.50" stroke="#000" stroke-width="0.95" stroke-opacity="0.63"/>
<line x1="367.00" y1="394.06" x2="385.00" y2="394.06" stroke="#000" stroke-width="0.95" stroke-opacity="0.63"/>
<line x1="367.00" y1="404.63" x2="385.00" y2="404.63" stroke="#000" stroke-width="0.95" stroke-opacity="0.63"/>
<line x1="367.00" y1="415.19" x2="385.00" y2="415.19" stroke="#000" stroke-width="0.95" stroke-opacity="0.63"/>
<line x1="367.00" y1="425.75" x2="385.00" y2="425.75" stroke="#000" stroke-width="0.95" stroke-opacity="0.63"/>
<line x1="367.00" y1="436.32" x2="385.00" y2="436.32" stroke="#000" stroke-width="0.95" stroke-opacity="0.63"/>
<line x1="367.00" y1="446.88" x2="385.00" y2="446.88" stroke="#000" stroke-width="0.95" stroke-opacity="0.63"/>
<line x1="367.00" y1="457.44" x2="385.00" y2="457.44" stroke="#000" stroke-width="0.95" stroke-opacity="0.63"/>
<line x1="367.00" y1="468.01" x2="385.00" y2="468.01" stroke="#000" stroke-width="0.95" stroke-opacity="0.63"/>
<line x1="367.00" y1="478.57" x2="385.00" y2="478.57" stroke="#000" stroke-width="0.95" stroke-opacity="0.63"/>
<line x1="367.00" y1="489.13" x2="385.00" y2="489.13" stroke="#000" stroke-width="0.95" stroke-opacity="0.63"/>
<line x1="367.00" y1="499.69" x2="385.00" y2="499.69" stroke="#000" stroke-width="0.95" stroke-opacity="0.63"/>
<line x1="367.00" y1="510.26" x2="385.00" y2="510.26" stroke="#000" stroke-width="0.95" stroke-opacity="0.63"/>
<line x1="367.00" y1="520.82" x2="385.00" y2="520.82" stroke="#000" stroke-width="0.95" stroke-opacity="0.63"/>
<line x1="367.00" y1="531.38" x2="385.00" y2="531.38" stroke="#000" stroke-width="0.95" stroke-opacity="0.63"/>
<line x1="367.00" y1="541.95" x2="385.00" y2="541.95" stroke="#000" stroke-width="0.95" stroke-opacity="0.63"/>
<line x1="367.00" y1="552.51" x2="385.00" y2="552.51" stroke="#000" stroke-width="0.95" stroke-opacity="0.63"/>
<line x1="367.00" y1="563.07" x2="385.00" y2="563.07" stroke="#000" stroke-width="0.95" stroke-opacity="0.63"/>
<line x1="367.00" y1="573.63" x2="385.00" y2="573.63" stroke="#000" stroke-width="0.95" stroke-opacity="0.63"/>
<line x1="367.00" y1="584.20" x2="385.00" y2="584.20" stroke="#000" stroke-width="0.95" stroke-opacity="0.63"/>
<line x1="367.00" y1="594.76" x2="385.00" y2="594.76" stroke="#000" stroke-width="0.95" stroke-opacity="0.63"/>
<line x1="367.00" y1="605.32" x2="385.00" y2="605.32" stroke="#000" stroke-width="0.95" stroke-opacity="0.63"/>
<line x1="367.00" y1="615.89" x2="385.00" y2="615.89" stroke="#000" stroke-width="0.95" stroke-opacity="0.63"/>
<line x1="367.00" y1="626.45" x2="385.00" y2="626.45" stroke="#000" stroke-width="0.95" stroke-opacity="0.63"/>
<line x1="393.90" y1="98.30" x2="393.90" y2="626.45" stroke="#000" stroke-width="0.95" stroke-opacity="0.63"/>
<line x1="402.90" y1="98.30" x2="402.90" y2="626.45" stroke="#000" stroke-width="0.95" stroke-opacity="0.63"/>
<line x1="411.90" y1="98.30" x2="411.90" y2="626.45" stroke="#000" stroke-width="0.95" stroke-opacity="0.63"/>
<line x1="393.90" y1="98.30" x2="411.90" y2="98.30" stroke="#000" stroke-width="0.95" stroke-opacity="0.63"/>
<line x1="393.90" y1="108.86" x2="411.90" y2="108.86" stroke="#000" stroke-width="0.95" stroke-opacity="0.63"/>
<line x1="393.90" y1="119.43" x2="411.90" y2="119.43" stroke="#000" stroke-width="0.95" stroke-opacity="0.63"/>
<line x1="393.90" y1="129.99" x2="411.90" y2="129.99" stroke="#000" stroke-width="0.95" stroke-opacity="0.63"/>
<line x1="393.90" y1="140.55" x2="411.90" y2="140.55" stroke="#000" stroke-width="0.95" stroke-opacity="0.63"/>
<line x1="393.90" y1="151.12" x2="411.90" y2="151.12" stroke="#000" stroke-width="0.95" stroke-opacity="0.63"/>
<line x1="393.90" y1="161.68" x2="411.90" y2="161.68" stroke="#000" stroke-width="0.95" stroke-opacity="0.63"/>
<line x1="393.90" y1="172.24" x2="411.90" y2="172.24" stroke="#000" stroke-width="0.95" stroke-opacity="0.63"/>
<line x1="393.90" y1="182.80" x2="411.90" y2="182.80" stroke="#000" stroke-width="0.95" stroke-opacity="0.63"/>
<line x1="393.90" y1="193.37" x2="411.90" y2="193.37" stroke="#000" stroke-width="0.95" stroke-opacity="0.63"/>
<line x1="393.90" y1="203.93" x2="411.90" y2="203.93" stroke="#000" stroke-width="0.95" stroke-opacity="0.63"/>
<line x1="393.90" y1="214.49" x2="411.90" y2="214.49" stroke="#000" stroke-width="0.95" stroke-opacity="0.63"/>
<line x1="393.90" y1="225.06" x2="411.90" y2="225.06" stroke="#000" stroke-width="0.95" stroke-opacity="0.63"/>
<line x1="393.90" y1="235.62" x2="411.90" y2="235.62" stroke="#000" stroke-width="0.95" stroke-opacity="0.63"/>
<line x1="393.90" y1="246.18" x2="411.90" y2="246.18" stroke="#000" stroke-width="0.95" stroke-opacity="0.63"/>
<line x1="393.90" y1="256.75" x2="411.90" y2="256.75" stroke="#000" stroke-width="0.95" stroke-opacity="0.63"/>
<line x1="393.90" y1="267.31" x2="411.90" y2="267.31" stroke="#000" stroke-width="0.95" stroke-opacity="0.63"/>
<line x1="393.90" y1="277.87" x2="411.90" y2="277.87" stroke="#000" stroke-width="0.95" stroke-opacity="0.63"/>
<line x1="393.90" y1="288.43" x2="411.90" y2="288.43" stroke="#000" stroke-width="0.95" stroke-opacity="0.63"/>
<line x1="393.90" y1="299.00" x2="411.90" y2="299.00" stroke="#000" stroke-width="0.95" stroke-opacity="0.63"/>
<line x1="393.90" y1="309.56" x2="411.90" y2="309.56" stroke="#000" stroke-width="0.95" stroke-opacity="0.63"/>
<line x1="393.90" y1="320.12" x2="411.90" y2="320.12" stroke="#000" stroke-width="0.95" stroke-opacity="0.63"/>
<line x1="393.90" y1="330.69" x2="411.90" y2="330.69" stroke="#000" stroke-width="0.95" stroke-opacity="0.63"/>
<line x1="393.90" y1="341.25" x2="411.90" y2="341.25" stroke="#000" stroke-width="0.95" stroke-opacity="0.63"/>
<line x1="393.90" y1="351.81" x2="411.90" y2="351.81" stroke="#000" stroke-width="0.95" stroke-opacity="0.63"/>
<line x1="393.90" y1="362.38" x2="411.90" y2="362.38" stroke="#000" stroke-width="0.95" stroke-opacity="0.63"/>
<line x1="393.90" y1="372.94" x2="411.90" y2="372.94" stroke="#000" stroke-width="0.95" stroke-opacity="0.63"/>
<line x1="393.90" y1="383.50" x2="411.90" y2="383.50" stroke="#000" stroke-width="0.95" stroke-opacity="0.63"/>
<line x1="393.90" y1="394.06" x2="411.90" y2="394.06" stroke="#000" stroke-width="0.95" stroke-opacity="0.63"/>
<line x1="393.90" y1="404.63" x2="411.90" y2="404.63" stroke="#000" stroke-width="0.95" stroke-opacity="0.63"/>
<line x1="393.90" y1="415.19" x2="411.90" y2="415.19" stroke="#000" stroke-width="0.95" stroke-opacity="0.63"/>
<line x1="393.90" y1="425.75" x2="411.90" y2="425.75" stroke="#000" stroke-width="0.95" stroke-opacity="0.63"/>
<line x1="393.90" y1="436.32" x2="411.90" y2="436.32" stroke="#000" stroke-width="0.95" stroke-opacity="0.63"/>
<line x1="393.90" y1="446.88" x2="411.90" y2="446.88" stroke="#000" stroke-width="0.95" stroke-opacity="0.63"/>
<line x1="393.90" y1="457.44" x2="411.90" y2="457.44" stroke="#000" stroke-width="0.95" stroke-opacity="0.63"/>
<line x1="393.90" y1="468.01" x2="411.90" y2="468.01" stroke="#000" stroke-width="0.95" stroke-opacity="0.63"/>
<line x1="393.90" y1="478.57" x2="411.90" y2="478.57" stroke="#000" stroke-width="0.95" stroke-opacity="0.63"/>
<line x1="393.90" y1="489.13" x2="411.90" y2="489.13" stroke="#000" stroke-width="0.95" stroke-opacity="0.63"/>
<line x1="393.90" y1="499.69" x2="411.90" y2="499.69" stroke="#000" stroke-width="0.95" stroke-opacity="0.63"/>
<line x1="393.90" y1="510.26" x2="411.90" y2="510.26" stroke="#000" stroke-width="0.95" stroke-opacity="0.63"/>
<line x1="393.90" y1="520.82" x2="411.90" y2="520.82" stroke="#000" stroke-width="0.95" stroke-opacity="0.63"/>
<line x1="393.90" y1="531.38" x2="411.90" y2="531.38" stroke="#000" stroke-width="0.95" stroke-opacity="0.63"/>
<line x1="393.90" y1="541.95" x2="411.90" y2="541.95" stroke="#000" stroke-width="0.95" stroke-opacity="0.63"/>
<line x1="393.90" y1="552.51" x2="411.90" y2="552.51" stroke="#000" stroke-width="0.95" stroke-opacity="0.63"/>
<line x1="393.90" y1="563.07" x2="411.90" y2="563.07" stroke="#000" stroke-width="0.95" stroke-opacity="0.63"/>
<line x1="393.90" y1="573.63" x2="411.90" y2="573.63" stroke="#000" stroke-width="0.95" stroke-opacity="0.63"/>
<line x1="393.90" y1="584.20" x2="411.90" y2="584.20" stroke="#000" stroke-width="0.95" stroke-opacity="0.63"/>
<line x1="393.90" y1="594.76" x2="411.90" y2="594.76" stroke="#000" stroke-width="0.95" stroke-opacity="0.63"/>
<line x1="393.90" y1="605.32" x2="411.90" y2="605.32" stroke="#000" stroke-width="0.95" stroke-opacity="0.63"/>
<line x1="393.90" y1="615.89" x2="411.90" y2="615.89" stroke="#000" stroke-width="0.95" stroke-opacity="0.63"/>
<line x1="393.90" y1="626.45" x2="411.90" y2="626.45" stroke="#000" stroke-width="0.95" stroke-opacity="0.63"/>
<line x1="420.80" y1="98.30" x2="420.80" y2="626.45" stroke="#000" stroke-width="0.95" stroke-opacity="0.63"/>
<line x1="429.80" y1="98.30" x2="429.80" y2="626.45" stroke="#000" stroke-width="0.95" stroke-opacity="0.63"/>
<line x1="438.80" y1="98.30" x2="438.80" y2="626.45" stroke="#000" stroke-width="0.95" stroke-opacity="0.63"/>
<line x1="420.80" y1="98.30" x2="438.80" y2="98.30" stroke="#000" stroke-width="0.95" stroke-opacity="0.63"/>
<line x1="420.80" y1="108.86" x2="438.80" y2="108.86" stroke="#000" stroke-width="0.95" stroke-opacity="0.63"/>
<line x1="420.80" y1="119.43" x2="438.80" y2="119.43" stroke="#000" stroke-width="0.95" stroke-opacity="0.63"/>
<line x1="420.80" y1="129.99" x2="438.80" y2="129.99" stroke="#000" stroke-width="0.95" stroke-opacity="0.63"/>
<line x1="420.80" y1="140.55" x2="438.80" y2="140.55" stroke="#000" stroke-width="0.95" stroke-opacity="0.63"/>
<line x1="420.80" y1="151.12" x2="438.80" y2="151.12" stroke="#000" stroke-width="0.95" stroke-opacity="0.63"/>
<line x1="420.80" y1="161.68" x2="438.80" y2="161.68" stroke="#000" stroke-width="0.95" stroke-opacity="0.63"/>
<line x1="420.80" y1="172.24" x2="438.80" y2="172.24" stroke="#000" stroke-width="0.95" stroke-opacity="0.63"/>
<line x1="420.80" y1="182.80" x2="438.80" y2="182.80" stroke="#000" stroke-width="0.95" stroke-opacity="0.63"/>
<line x1="420.80" y1="193.37" x2="438.80" y2="193.37" stroke="#000" stroke-width="0.95" stroke-opacity="0.63"/>
<line x1="420.80" y1="203.93" x2="438.80" y2="203.93" stroke="#000" stroke-width="0.95" stroke-opacity="0.63"/>
<line x1="420.80" y1="214.49" x2="438.80" y2="214.49" stroke="#000" stroke-width="0.95" stroke-opacity="0.63"/>
<line x1="420.80" y1="225.06" x2="438.80" y2="225.06" stroke="#000" stroke-width="0.95" stroke-opacity="0.63"/>
<line x1="420.80" y1="235.62" x2="438.80" y2="235.62" stroke="#000" stroke-width="0.95" stroke-opacity="0.63"/>
<line x1="420.80" y1="246.18" x2="438.80" y2="246.18" stroke="#000" stroke-width="0.95" stroke-opacity="0.63"/>
<line x1="420.80" y1="256.75" x2="438.80" y2="256.75" stroke="#000" stroke-width="0.95" stroke-opacity="0.63"/>
<line x1="420.80" y1="267.31" x2="438.80" y2="267.31" stroke="#000" stroke-width="0.95" stroke-opacity="0.63"/>
<line x1="420.80" y1="277.87" x2="438.80" y2="277.87" stroke="#000" stroke-width="0.95" stroke-opacity="0.63"/>
<line x1="420.80" y1="288.43" x2="438.80" y2="288.43" stroke="#000" stroke-width="0.95" stroke-opacity="0.63"/>
<line x1="420.80" y1="299.00" x2="438.80" y2="299.00" stroke="#000" stroke-width="0.95" stroke-opacity="0.63"/>
<line x1="420.80" y1="309.56" x2="438.80" y2="309.56" stroke="#000" stroke-width="0.95" stroke-opacity="0.63"/>
<line x1="420.80" y1="320.12" x2="438.80" y2="320.12" stroke="#000" stroke-width="0.95" stroke-opacity="0.63"/>
<line x1="420.80" y1="330.69" x2="438.80" y2="330.69" stroke="#000" stroke-width="0.95" stroke-opacity="0.63"/>
<line x1="420.80" y1="341.25" x2="438.80" y2="341.25" stroke="#000" stroke-width="0.95" stroke-opacity="0.63"/>
<line x1="420.80" y1="351.81" x2="438.80" y2="351.81" stroke="#000" stroke-width="0.95" stroke-opacity="0.63"/>
<line x1="420.80" y1="362.38" x2="438.80" y2="362.38" stroke="#000" stroke-width="0.95" stroke-opacity="0.63"/>
<line x1="420.80" y1="372.94" x2="438.80" y2="372.94" stroke="#000" stroke-width="0.95" stroke-opacity="0.63"/>
<line x1="420.80" y1="383.50" x2="438.80" y2="383.50" stroke="#000" stroke-width="0.95" stroke-opacity="0.63"/>
<line x1="420.80" y1="394.06" x2="438.80" y2="394.06" stroke="#000" stroke-width="0.95" stroke-opacity="0.63"/>
<line x1="420.80" y1="404.63" x2="438.80" y2="404.63" stroke="#000" stroke-width="0.95" stroke-opacity="0.63"/>
<line x1="420.80" y1="415.19" x2="438.80" y2="415.19" stroke="#000" stroke-width="0.95" stroke-opacity="0.63"/>
<line x1="420.80" y1="425.75" x2="438.80" y2="425.75" stroke="#000" stroke-width="0.95" stroke-opacity="0.63"/>
<line x1="420.80" y1="436.32" x2="438.80" y2="436.32" stroke="#000" stroke-width="0.95" stroke-opacity="0.63"/>
<line x1="420.80" y1="446.88" x2="438.80" y2="446.88" stroke="#000" stroke-width="0.95" stroke-opacity="0.63"/>
<line x1="420.80" y1="457.44" x2="438.80" y2="457.44" stroke="#000" stroke-width="0.95" stroke-opacity="0.63"/>
<line x1="420.80" y1="468.01" x2="438.80" y2="468.01" stroke="#000" stroke-width="0.95" stroke-opacity="0.63"/>
<line x1="420.80" y1="478.57" x2="438.80" y2="478.57" stroke="#000" stroke-width="0.95" stroke-opacity="0.63"/>
<line x1="420.80" y1="489.13" x2="438.80" y2="489.13" stroke="#000" stroke-width="0.95" stroke-opacity="0.63"/>
<line x1="420.80" y1="499.69" x2="438.80" y2="499.69" stroke="#000" stroke-width="0.95" stroke-opacity="0.63"/>
<line x1="420.80" y1="510.26" x2="438.80" y2="510.26" stroke="#000" stroke-width="0.95" stroke-opacity="0.63"/>
<line x1="420.80" y1="520.82" x2="438.80" y2="520.82" stroke="#000" stroke-width="0.95" stroke-opacity="0.63"/>
<line x1="420.80" y1="531.38" x2="438.80" y2="531.38" stroke="#000" stroke-width="0.95" stroke-opacity="0.63"/>
<line x1="420.80" y1="541.95" x2="438.80" y2="541.95" stroke="#000" stroke-width="0.95" stroke-opacity="0.63"/>
<line x1="420.80" y1="552.51" x2="438.80" y2="552.51" stroke="#000" stroke-width="0.95" stroke-opacity="0.63"/>
<line x1="420.80" y1="563.07" x2="438.80" y2="563.07" stroke="#000" stroke-width="0.95" stroke-opacity="0.63"/>
<line x1="420.80" y1="573.63" x2="438.80" y2="573.63" stroke="#000" stroke-width="0.95" stroke-opacity="0.63"/>
<line x1="420.80" y1="584.20" x2="438.80" y2="584.20" stroke="#000" stroke-width="0.95" stroke-opacity="0.63"/>
<line x1="420.80" y1="594.76" x2="438.80" y2="594.76" stroke="#000" stroke-width="0.95" stroke-opacity="0.63"/>
<line x1="420.80" y1="605.32" x2="438.80" y2="605.32" stroke="#000" stroke-width="0.95" stroke-opacity="0.63"/>
<line x1="420.80" y1="615.89" x2="438.80" y2="615.89" stroke="#000" stroke-width="0.95" stroke-opacity="0.63"/>
<line x1="420.80" y1="626.45" x2="438.80" y2="626.45" stroke="#000" stroke-width="0.95" stroke-opacity="0.63"/>
<line x1="447.70" y1="98.30" x2="447.70" y2="626.45" stroke="#000" stroke-width="0.95" stroke-opacity="0.63"/>
<line x1="456.70" y1="98.30" x2="456.70" y2="626.45" stroke="#000" stroke-width="0.95" stroke-opacity="0.63"/>
<line x1="465.70" y1="98.30" x2="465.70" y2="626.45" stroke="#000" stroke-width="0.95" stroke-opacity="0.63"/>
<line x1="447.70" y1="98.30" x2="465.70" y2="98.30" stroke="#000" stroke-width="0.95" stroke-opacity="0.63"/>
<line x1="447.70" y1="108.86" x2="465.70" y2="108.86" stroke="#000" stroke-width="0.95" stroke-opacity="0.63"/>
<line x1="447.70" y1="119.43" x2="465.70" y2="119.43" stroke="#000" stroke-width="0.95" stroke-opacity="0.63"/>
<line x1="447.70" y1="129.99" x2="465.70" y2="129.99" stroke="#000" stroke-width="0.95" stroke-opacity="0.63"/>
<line x1="447.70" y1="140.55" x2="465.70" y2="140.55" stroke="#000" stroke-width="0.95" stroke-opacity="0.63"/>
<line x1="447.70" y1="151.12" x2="465.70" y2="151.12" stroke="#000" stroke-width="0.95" stroke-opacity="0.63"/>
<line x1="447.70" y1="161.68" x2="465.70" y2="161.68" stroke="#000" stroke-width="0.95" stroke-opacity="0.63"/>
<line x1="447.70" y1="172.24" x2="465.70" y2="172.24" stroke="#000" stroke-width="0.95" stroke-opacity="0.63"/>
<line x1="447.70" y1="182.80" x2="465.70" y2="182.80" stroke="#000" stroke-width="0.95" stroke-opacity="0.63"/>
<line x1="447.70" y1="193.37" x2="465.70" y2="193.37" stroke="#000" stroke-width="0.95" stroke-opacity="0.63"/>
<line x1="447.70" y1="203.93" x2="465.70" y2="203.93" stroke="#000" stroke-width="0.95" stroke-opacity="0.63"/>
<line x1="447.70" y1="214.49" x2="465.70" y2="214.49" stroke="#000" stroke-width="0.95" stroke-opacity="0.63"/>
<line x1="447.70" y1="225.06" x2="465.70" y2="225.06" stroke="#000" stroke-width="0.95" stroke-opacity="0.63"/>
<line x1="447.70" y1="235.62" x2="465.70" y2="235.62" stroke="#000" stroke-width="0.95" stroke-opacity="0.63"/>
<line x1="447.70" y1="246.18" x2="465.70" y2="246.18" stroke="#000" stroke-width="0.95" stroke-opacity="0.63"/>
<line x1="447.70" y1="256.75" x2="465.70" y2="256.75" stroke="#000" stroke-width="0.95" stroke-opacity="0.63"/>
<line x1="447.70" y1="267.31" x2="465.70" y2="267.31" stroke="#000" stroke-width="0.95" stroke-opacity="0.63"/>
<line x1="447.70" y1="277.87" x2="465.70" y2="277.87" stroke="#000" stroke-width="0.95" stroke-opacity="0.63"/>
<line x1="447.70" y1="288.43" x2="465.70" y2="288.43" stroke="#000" stroke-width="0.95" stroke-opacity="0.63"/>
<line x1="447.70" y1="299.00" x2="465.70" y2="299.00" stroke="#000" stroke-width="0.95" stroke-opacity="0.63"/>
<line x1="447.70" y1="309.56" x2="465.70" y2="309.56" stroke="#000" stroke-width="0.95" stroke-opacity="0.63"/>
<line x1="447.70" y1="320.12" x2="465.70" y2="320.12" stroke="#000" stroke-width="0.95" stroke-opacity="0.63"/>
<line x1="447.70" y1="330.69" x2="465.70" y2="330.69" stroke="#000" stroke-width="0.95" stroke-opacity="0.63"/>
<line x1="447.70" y1="341.25" x2="465.70" y2="341.25" stroke="#000" stroke-width="0.95" stroke-opacity="0.63"/>
<line x1="447.70" y1="351.81" x2="465.70" y2="351.81" stroke="#000" stroke-width="0.95" stroke-opacity="0.63"/>
<line x1="447.70" y1="362.38" x2="465.70" y2="362.38" stroke="#000" stroke-width="0.95" stroke-opacity="0.63"/>
<line x1="447.70" y1="372.94" x2="465.70" y2="372.94" stroke="#000" stroke-width="0.95" stroke-opacity="0.63"/>
<line x1="447.70" y1="383.50" x2="465.70" y2="383.50" stroke="#000" stroke-width="0.95" stroke-opacity="0.63"/>
<line x1="447.70" y1="394.06" x2="465.70" y2="394.06" stroke="#000" stroke-width="0.95" stroke-opacity="0.63"/>
<line x1="447.70" y1="404.63" x2="465.70" y2="404.63" stroke="#000" stroke-width="0.95" stroke-opacity="0.63"/>
<line x1="447.70" y1="415.19" x2="465.70" y2="415.19" stroke="#000" stroke-width="0.95" stroke-opacity="0.63"/>
<line x1="447.70" y1="425.75" x2="465.70" y2="425.75" stroke="#000" stroke-width="0.95" stroke-opacity="0.63"/>
<line x1="447.70" y1="436.32" x2="465.70" y2="436.32" stroke="#000" stroke-width="0.95" stroke-opacity="0.63"/>
<line x1="447.70" y1="446.88" x2="465.70" y2="446.88" stroke="#000" stroke-width="0.95" stroke-opacity="0.63"/>
<line x1="447.70" y1="457.44" x2="465.70" y2="457.44" stroke="#000" stroke-width="0.95" stroke-opacity="0.63"/>
<line x1="447.70" y1="468.01" x2="465.70" y2="468.01" stroke="#000" stroke-width="0.95" stroke-opacity="0.63"/>
<line x1="447.70" y1="478.57" x2="465.70" y2="478.57" stroke="#000" stroke-width="0.95" stroke-opacity="0.63"/>
<line x1="447.70" y1="489.13" x2="465.70" y2="489.13" stroke="#000" stroke-width="0.95" stroke-opacity="0.63"/>
<line x1="447.70" y1="499.69" x2="465.70" y2="499.69" stroke="#000" stroke-width="0.95" stroke-opacity="0.63"/>
<line x1="447.70" y1="510.26" x2="465.70" y2="510.26" stroke="#000" stroke-width="0.95" stroke-opacity="0.63"/>
<line x1="447.70" y1="520.82" x2="465.70" y2="520.82" stroke="#000" stroke-width="0.95" stroke-opacity="0.63"/>
<line x1="447.70" y1="531.38" x2="465.70" y2="531.38" stroke="#000" stroke-width="0.95" stroke-opacity="0.63"/>
<line x1="447.70" y1="541.95" x2="465.70" y2="541.95" stroke="#000" stroke-width="0.95" stroke-opacity="0.63"/>
<line x1="447.70" y1="552.51" x2="465.70" y2="552.51" stroke="#000" stroke-width="0.95" stroke-opacity="0.63"/>
<line x1="447.70" y1="563.07" x2="465.70" y2="563.07" stroke="#000" stroke-width="0.95" stroke-opacity="0.63"/>
<line x1="447.70" y1="573.63" x2="465.70" y2="573.63" stroke="#000" stroke-width="0.95" stroke-opacity="0.63"/>
<line x1="447.70" y1="584.20" x2="465.70" y2="584.20" stroke="#000" stroke-width="0.95" stroke-opacity="0.63"/>
<line x1="447.70" y1="594.76" x2="465.70" y2="594.76" stroke="#000" stroke-width="0.95" stroke-opacity="0.63"/>
<line x1="447.70" y1="605.32" x2="465.70" y2="605.32" stroke="#000" stroke-width="0.95" stroke-opacity="0.63"/>
<line x1="447.70" y1="615.89" x2="465.70" y2="615.89" stroke="#000" stroke-width="0.95" stroke-opacity="0.63"/>
<line x1="447.70" y1="626.45" x2="465.70" y2="626.45" stroke="#000" stroke-width="0.95" stroke-opacity="0.63"/>
<line x1="474.60" y1="98.30" x2="474.60" y2="626.45" stroke="#000" stroke-width="0.95" stroke-opacity="0.63"/>
<line x1="483.60" y1="98.30" x2="483.60" y2="626.45" stroke="#000" stroke-width="0.95" stroke-opacity="0.63"/>
<line x1="492.60" y1="98.30" x2="492.60" y2="626.45" stroke="#000" stroke-width="0.95" stroke-opacity="0.63"/>
<line x1="474.60" y1="98.30" x2="492.60" y2="98.30" stroke="#000" stroke-width="0.95" stroke-opacity="0.63"/>
<line x1="474.60" y1="108.86" x2="492.60" y2="108.86" stroke="#000" stroke-width="0.95" stroke-opacity="0.63"/>
<line x1="474.60" y1="119.43" x2="492.60" y2="119.43" stroke="#000" stroke-width="0.95" stroke-opacity="0.63"/>
<line x1="474.60" y1="129.99" x2="492.60" y2="129.99" stroke="#000" stroke-width="0.95" stroke-opacity="0.63"/>
<line x1="474.60" y1="140.55" x2="492.60" y2="140.55" stroke="#000" stroke-width="0.95" stroke-opacity="0.63"/>
<line x1="474.60" y1="151.12" x2="492.60" y2="151.12" stroke="#000" stroke-width="0.95" stroke-opacity="0.63"/>
<line x1="474.60" y1="161.68" x2="492.60" y2="161.68" stroke="#000" stroke-width="0.95" stroke-opacity="0.63"/>
<line x1="474.60" y1="172.24" x2="492.60" y2="172.24" stroke="#000" stroke-width="0.95" stroke-opacity="0.63"/>
<line x1="474.60" y1="182.80" x2="492.60" y2="182.80" stroke="#000" stroke-width="0.95" stroke-opacity="0.63"/>
<line x1="474.60" y1="193.37" x2="492.60" y2="193.37" stroke="#000" stroke-width="0.95" stroke-opacity="0.63"/>
<line x1="474.60" y1="203.93" x2="492.60" y2="203.93" stroke="#000" stroke-width="0.95" stroke-opacity="0.63"/>
<line x1="474.60" y1="214.49" x2="492.60" y2="214.49" stroke="#000" stroke-width="0.95" stroke-opacity="0.63"/>
<line x1="474.60" y1="225.06" x2="492.60" y2="225.06" stroke="#000" stroke-width="0.95" stroke-opacity="0.63"/>
<line x1="474.60" y1="235.62" x2="492.60" y2="235.62" stroke="#000" stroke-width="0.95" stroke-opacity="0.63"/>
<line x1="474.60" y1="246.18" x2="492.60" y2="246.18" stroke="#000" stroke-width="0.95" stroke-opacity="0.63"/>
<line x1="474.60" y1="256.75" x2="492.60" y2="256.75" stroke="#000" stroke-width="0.95" stroke-opacity="0.63"/>
<line x1="474.60" y1="267.31" x2="492.60" y2="267.31" stroke="#000" stroke-width="0.95" stroke-opacity="0.63"/>
<line x1="474.60" y1="277.87" x2="492.60" y2="277.87" stroke="#000" stroke-width="0.95" stroke-opacity="0.63"/>
<line x1="474.60" y1="288.43" x2="492.60" y2="288.43" stroke="#000" stroke-width="0.95" stroke-opacity="0.63"/>
<line x1="474.60" y1="299.00" x2="492.60" y2="299.00" stroke="#000" stroke-width="0.95" stroke-opacity="0.63"/>
<line x1="474.60" y1="309.56" x2="492.60" y2="309.56" stroke="#000" stroke-width="0.95" stroke-opacity="0.63"/>
<line x1="474.60" y1="320.12" x2="492.60" y2="320.12" stroke="#000" stroke-width="0.95" stroke-opacity="0.63"/>
<line x1="474.60" y1="330.69" x2="492.60" y2="330.69" stroke="#000" stroke-width="0.95" stroke-opacity="0.63"/>
<line x1="474.60" y1="341.25" x2="492.60" y2="341.25" stroke="#000" stroke-width="0.95" stroke-opacity="0.63"/>
<line x1="474.60" y1="351.81" x2="492.60" y2="351.81" stroke="#000" stroke-width="0.95" stroke-opacity="0.63"/>
<line x1="474.60" y1="362.38" x2="492.60" y2="362.38" stroke="#000" stroke-width="0.95" stroke-opacity="0.63"/>
<line x1="474.60" y1="372.94" x2="492.60" y2="372.94" stroke="#000" stroke-width="0.95" stroke-opacity="0.63"/>
<line x1="474.60" y1="383.50" x2="492.60" y2="383.50" stroke="#000" stroke-width="0.95" stroke-opacity="0.63"/>
<line x1="474.60" y1="394.06" x2="492.60" y2="394.06" stroke="#000" stroke-width="0.95" stroke-opacity="0.63"/>
<line x1="474.60" y1="404.63" x2="492.60" y2="404.63" stroke="#000" stroke-width="0.95" stroke-opacity="0.63"/>
<line x1="474.60" y1="415.19" x2="492.60" y2="415.19" stroke="#000" stroke-width="0.95" stroke-opacity="0.63"/>
<line x1="474.60" y1="425.75" x2="492.60" y2="425.75" stroke="#000" stroke-width="0.95" stroke-opacity="0.63"/>
<line x1="474.60" y1="436.32" x2="492.60" y2="436.32" stroke="#000" stroke-width="0.95" stroke-opacity="0.63"/>
<line x1="474.60" y1="446.88" x2="492.60" y2="446.88" stroke="#000" stroke-width="0.95" stroke-opacity="0.63"/>
<line x1="474.60" y1="457.44" x2="492.60" y2="457.44" stroke="#000" stroke-width="0.95" stroke-opacity="0.63"/>
<line x1="474.60" y1="468.01" x2="492.60" y2="468.01" stroke="#000" stroke-width="0.95" stroke-opacity="0.63"/>
<line x1="474.60" y1="478.57" x2="492.60" y2="478.57" stroke="#000" stroke-width="0.95" stroke-opacity="0.63"/>
<line x1="474.60" y1="489.13" x2="492.60" y2="489.13" stroke="#000" stroke-width="0.95" stroke-opacity="0.63"/>
<line x1="474.60" y1="499.69" x2="492.60" y2="499.69" stroke="#000" stroke-width="0.95" stroke-opacity="0.63"/>
<line x1="474.60" y1="510.26" x2="492.60" y2="510.26" stroke="#000" stroke-width="0.95" stroke-opacity="0.63"/>
<line x1="474.60" y1="520.82" x2="492.60" y2="520.82" stroke="#000" stroke-width="0.95" stroke-opacity="0.63"/>
<line x1="474.60" y1="531.38" x2="492.60" y2="531.38" stroke="#000" stroke-width="0.95" stroke-opacity="0.63"/>
<line x1="474.60" y1="541.95" x2="492.60" y2="541.95" stroke="#000" stroke-width="0.95" stroke-opacity="0.63"/>
<line x1="474.60" y1="552.51" x2="492.60" y2="552.51" stroke="#000" stroke-width="0.95" stroke-opacity="0.63"/>
<line x1="474.60" y1="563.07" x2="492.60" y2="563.07" stroke="#000" stroke-width="0.95" stroke-opacity="0.63"/>
<line x1="474.60" y1="573.63" x2="492.60" y2="573.63" stroke="#000" stroke-width="0.95" stroke-opacity="0.63"/>
<line x1="474.60" y1="584.20" x2="492.60" y2="584.20" stroke="#000" stroke-width="0.95" stroke-opacity="0.63"/>
<line x1="474.60" y1="594.76" x2="492.60" y2="594.76" stroke="#000" stroke-width="0.95" stroke-opacity="0.63"/>
<line x1="474.60" y1="605.32" x2="492.60" y2="605.32" stroke="#000" stroke-width="0.95" stroke-opacity="0.63"/>
<line x1="474.60" y1="615.89" x2="492.60" y2="615.89" stroke="#000" stroke-width="0.95" stroke-opacity="0.63"/>
<line x1="474.60" y1="626.45" x2="492.60" y2="626.45" stroke="#000" stroke-width="0.95" stroke-opacity="0.63"/>
<line x1="501.50" y1="98.30" x2="501.50" y2="626.45" stroke="#000" stroke-width="0.95" stroke-opacity="0.63"/>
<line x1="510.50" y1="98.30" x2="510.50" y2="626.45" stroke="#000" stroke-width="0.95" stroke-opacity="0.63"/>
<line x1="519.50" y1="98.30" x2="519.50" y2="626.45" stroke="#000" stroke-width="0.95" stroke-opacity="0.63"/>
<line x1="501.50" y1="98.30" x2="519.50" y2="98.30" stroke="#000" stroke-width="0.95" stroke-opacity="0.63"/>
<line x1="501.50" y1="108.86" x2="519.50" y2="108.86" stroke="#000" stroke-width="0.95" stroke-opacity="0.63"/>
<line x1="501.50" y1="119.43" x2="519.50" y2="119.43" stroke="#000" stroke-width="0.95" stroke-opacity="0.63"/>
<line x1="501.50" y1="129.99" x2="519.50" y2="129.99" stroke="#000" stroke-width="0.95" stroke-opacity="0.63"/>
<line x1="501.50" y1="140.55" x2="519.50" y2="140.55" stroke="#000" stroke-width="0.95" stroke-opacity="0.63"/>
<line x1="501.50" y1="151.12" x2="519.50" y2="151.12" stroke="#000" stroke-width="0.95" stroke-opacity="0.63"/>
<line x1="501.50" y1="161.68" x2="519.50" y2="161.68" stroke="#000" stroke-width="0.95" stroke-opacity="0.63"/>
<line x1="501.50" y1="172.24" x2="519.50" y2="172.24" stroke="#000" stroke-width="0.95" stroke-opacity="0.63"/>
<line x1="501.50" y1="182.80" x2="519.50" y2="182.80" stroke="#000" stroke-width="0.95" stroke-opacity="0.63"/>
<line x1="501.50" y1="193.37" x2="519.50" y2="193.37" stroke="#000" stroke-width="0.95" stroke-opacity="0.63"/>
<line x1="501.50" y1="203.93" x2="519.50" y2="203.93" stroke="#000" stroke-width="0.95" stroke-opacity="0.63"/>
<line x1="501.50" y1="214.49" x2="519.50" y2="214.49" stroke="#000" stroke-width="0.95" stroke-opacity="0.63"/>
<line x1="501.50" y1="225.06" x2="519.50" y2="225.06" stroke="#000" stroke-width="0.95" stroke-opacity="0.63"/>
<line x1="501.50" y1="235.62" x2="519.50" y2="235.62" stroke="#000" stroke-width="0.95" stroke-opacity="0.63"/>
<line x1="501.50" y1="246.18" x2="519.50" y2="246.18" stroke="#000" stroke-width="0.95" stroke-opacity="0.63"/>
<line x1="501.50" y1="256.75" x2="519.50" y2="256.75" stroke="#000" stroke-width="0.95" stroke-opacity="0.63"/>
<line x1="501.50" y1="267.31" x2="519.50" y2="267.31" stroke="#000" stroke-width="0.95" stroke-opacity="0.63"/>
<line x1="501.50" y1="277.87" x2="519.50" y2="277.87" stroke="#000" stroke-width="0.95" stroke-opacity="0.63"/>
<line x1="501.50" y1="288.43" x2="519.50" y2="288.43" stroke="#000" stroke-width="0.95" stroke-opacity="0.63"/>
<line x1="501.50" y1="299.00" x2="519.50" y2="299.00" stroke="#000" stroke-width="0.95" stroke-opacity="0.63"/>
<line x1="501.50" y1="309.56" x2="519.50" y2="309.56" stroke="#000" stroke-width="0.95" stroke-opacity="0.63"/>
<line x1="501.50" y1="320.12" x2="519.50" y2="320.12" stroke="#000" stroke-width="0.95" stroke-opacity="0.63"/>
<line x1="501.50" y1="330.69" x2="519.50" y2="330.69" stroke="#000" stroke-width="0.95" stroke-opacity="0.63"/>
<line x1="501.50" y1="341.25" x2="519.50" y2="341.25" stroke="#000" stroke-width="0.95" stroke-opacity="0.63"/>
<line x1="501.50" y1="351.81" x2="519.50" y2="351.81" stroke="#000" stroke-width="0.95" stroke-opacity="0.63"/>
<line x1="501.50" y1="362.38" x2="519.50" y2="362.38" stroke="#000" stroke-width="0.95" stroke-opacity="0.63"/>
<line x1="501.50" y1="372.94" x2="519.50" y2="372.94" stroke="#000" stroke-width="0.95" stroke-opacity="0.63"/>
<line x1="501.50" y1="383.50" x2="519.50" y2="383.50" stroke="#000" stroke-width="0.95" stroke-opacity="0.63"/>
<line x1="501.50" y1="394.06" x2="519.50" y2="394.06" stroke="#000" stroke-width="0.95" stroke-opacity="0.63"/>
<line x1="501.50" y1="404.63" x2="519.50" y2="404.63" stroke="#000" stroke-width="0.95" stroke-opacity="0.63"/>
<line x1="501.50" y1="415.19" x2="519.50" y2="415.19" stroke="#000" stroke-width="0.95" stroke-opacity="0.63"/>
<line x1="501.50" y1="425.75" x2="519.50" y2="425.75" stroke="#000" stroke-width="0.95" stroke-opacity="0.63"/>
<line x1="501.50" y1="436.32" x2="519.50" y2="436.32" stroke="#000" stroke-width="0.95" stroke-opacity="0.63"/>
<line x1="501.50" y1="446.88" x2="519.50" y2="446.88" stroke="#000" stroke-width="0.95" stroke-opacity="0.63"/>
<line x1="501.50" y1="457.44" x2="519.50" y2="457.44" stroke="#000" stroke-width="0.95" stroke-opacity="0.63"/>
<line x1="501.50" y1="468.01" x2="519.50" y2="468.01" stroke="#000" stroke-width="0.95" stroke-opacity="0.63"/>
<line x1="501.50" y1="478.57" x2="519.50" y2="478.57" stroke="#000" stroke-width="0.95" stroke-opacity="0.63"/>
<line x1="501.50" y1="489.13" x2="519.50" y2="489.13" stroke="#000" stroke-width="0.95" stroke-opacity="0.63"/>
<line x1="501.50" y1="499.69" x2="519.50" y2="499.69" stroke="#000" stroke-width="0.95" stroke-opacity="0.63"/>
<line x1="501.50" y1="510.26" x2="519.50" y2="510.26" stroke="#000" stroke-width="0.95" stroke-opacity="0.63"/>
<line x1="501.50" y1="520.82" x2="519.50" y2="520.82" stroke="#000" stroke-width="0.95" stroke-opacity="0.63"/>
<line x1="501.50" y1="531.38" x2="519.50" y2="531.38" stroke="#000" stroke-width="0.95" stroke-opacity="0.63"/>
<line x1="501.50" y1="541.95" x2="519.50" y2="541.95" stroke="#000" stroke-width="0.95" stroke-opacity="0.63"/>
<line x1="501.50" y1="552.51" x2="519.50" y2="552.51" stroke="#000" stroke-width="0.95" stroke-opacity="0.63"/>
<line x1="501.50" y1="563.07" x2="519.50" y2="563.07" stroke="#000" stroke-width="0.95" stroke-opacity="0.63"/>
<line x1="501.50" y1="573.63" x2="519.50" y2="573.63" stroke="#000" stroke-width="0.95" stroke-opacity="0.63"/>
<line x1="501.50" y1="584.20" x2="519.50" y2="584.20" stroke="#000" stroke-width="0.95" stroke-opacity="0.63"/>
<line x1="501.50" y1="594.76" x2="519.50" y2="594.76" stroke="#000" stroke-width="0.95" stroke-opacity="0.63"/>
<line x1="501.50" y1="605.32" x2="519.50" y2="605.32" stroke="#000" stroke-width="0.95" stroke-opacity="0.63"/>
<line x1="501.50" y1="615.89" x2="519.50" y2="615.89" stroke="#000" stroke-width="0.95" stroke-opacity="0.63"/>
<line x1="501.50" y1="626.45" x2="519.50" y2="626.45" stroke="#000" stroke-width="0.95" stroke-opacity="0.63"/>
<text x="336.20" y="106.98" font-size="8.6" text-anchor="end" textLength="29.5" lengthAdjust="spacingAndGlyphs">B*07:02</text>
<text x="336.20" y="117.53" font-size="8.6" text-anchor="end" textLength="29.5" lengthAdjust="spacingAndGlyphs">B*08:01</text>
<text x="336.20" y="128.09" font-size="8.6" text-anchor="end" textLength="29.5" lengthAdjust="spacingAndGlyphs">B*13:01</text>
<text x="336.20" y="138.64" font-size="8.6" text-anchor="end" textLength="29.5" lengthAdjust="spacingAndGlyphs">B*13:02</text>
<text x="336.20" y="149.19" font-size="8.6" text-anchor="end" textLength="29.5" lengthAdjust="spacingAndGlyphs">B*14:01</text>
<text x="336.20" y="159.74" font-size="8.6" text-anchor="end" textLength="29.5" lengthAdjust="spacingAndGlyphs">B*14:02</text>
<text x="336.20" y="170.29" font-size="8.6" text-anchor="end" textLength="29.5" lengthAdjust="spacingAndGlyphs">B*15:01</text>
<text x="336.20" y="180.85" font-size="8.6" text-anchor="end" textLength="29.5" lengthAdjust="spacingAndGlyphs">B*15:02</text>
<text x="336.20" y="191.40" font-size="8.6" text-anchor="end" textLength="29.5" lengthAdjust="spacingAndGlyphs">B*15:03</text>
<text x="336.20" y="201.95" font-size="8.6" text-anchor="end" textLength="29.5" lengthAdjust="spacingAndGlyphs">B*15:10</text>
<text x="336.20" y="212.50" font-size="8.6" text-anchor="end" textLength="29.5" lengthAdjust="spacingAndGlyphs">B*15:11</text>
<text x="336.20" y="223.05" font-size="8.6" text-anchor="end" textLength="29.5" lengthAdjust="spacingAndGlyphs">B*15:12</text>
<text x="336.20" y="233.61" font-size="8.6" text-anchor="end" textLength="29.5" lengthAdjust="spacingAndGlyphs">B*15:13</text>
<text x="336.20" y="244.16" font-size="8.6" text-anchor="end" textLength="29.5" lengthAdjust="spacingAndGlyphs">B*15:16</text>
<text x="336.20" y="254.71" font-size="8.6" text-anchor="end" textLength="29.5" lengthAdjust="spacingAndGlyphs">B*18:01</text>
<text x="336.20" y="265.26" font-size="8.6" text-anchor="end" textLength="29.5" lengthAdjust="spacingAndGlyphs">B*27:05</text>
<text x="336.20" y="275.81" font-size="8.6" text-anchor="end" textLength="29.5" lengthAdjust="spacingAndGlyphs">B*27:08</text>
<text x="336.20" y="286.37" font-size="8.6" text-anchor="end" textLength="29.5" lengthAdjust="spacingAndGlyphs">B*35:01</text>
<text x="336.20" y="296.92" font-size="8.6" text-anchor="end" textLength="29.5" lengthAdjust="spacingAndGlyphs">B*37:01</text>
<text x="336.20" y="307.47" font-size="8.6" text-anchor="end" textLength="29.5" lengthAdjust="spacingAndGlyphs">B*38:01</text>
<text x="336.20" y="318.02" font-size="8.6" text-anchor="end" textLength="29.5" lengthAdjust="spacingAndGlyphs">B*39:01</text>
<text x="336.20" y="328.57" font-size="8.6" text-anchor="end" textLength="29.5" lengthAdjust="spacingAndGlyphs">B*40:01</text>
<text x="336.20" y="339.13" font-size="8.6" text-anchor="end" textLength="29.5" lengthAdjust="spacingAndGlyphs">B*40:02</text>
<text x="336.20" y="349.68" font-size="8.6" text-anchor="end" textLength="29.5" lengthAdjust="spacingAndGlyphs">B*40:06</text>
<text x="336.20" y="360.23" font-size="8.6" text-anchor="end" textLength="29.5" lengthAdjust="spacingAndGlyphs">B*41:01</text>
<text x="336.20" y="370.78" font-size="8.6" text-anchor="end" textLength="29.5" lengthAdjust="spacingAndGlyphs">B*42:01</text>
<text x="336.20" y="381.33" font-size="8.6" text-anchor="end" textLength="29.5" lengthAdjust="spacingAndGlyphs">B*44:02</text>
<text x="336.20" y="391.89" font-size="8.6" text-anchor="end" textLength="29.5" lengthAdjust="spacingAndGlyphs">B*44:03</text>
<text x="336.20" y="402.44" font-size="8.6" text-anchor="end" textLength="29.5" lengthAdjust="spacingAndGlyphs">B*45:01</text>
<text x="336.20" y="412.99" font-size="8.6" text-anchor="end" textLength="29.5" lengthAdjust="spacingAndGlyphs">B*46:01</text>
<text x="336.20" y="423.54" font-size="8.6" text-anchor="end" textLength="29.5" lengthAdjust="spacingAndGlyphs">B*47:01</text>
<text x="336.20" y="434.09" font-size="8.6" text-anchor="end" textLength="29.5" lengthAdjust="spacingAndGlyphs">B*48:01</text>
<text x="336.20" y="444.65" font-size="8.6" text-anchor="end" textLength="29.5" lengthAdjust="spacingAndGlyphs">B*49:01</text>
<text x="336.20" y="455.20" font-size="8.6" text-anchor="end" textLength="29.5" lengthAdjust="spacingAndGlyphs">B*50:01</text>
<text x="336.20" y="465.75" font-size="8.6" text-anchor="end" textLength="29.5" lengthAdjust="spacingAndGlyphs">B*51:01</text>
<text x="336.20" y="476.30" font-size="8.6" text-anchor="end" textLength="29.5" lengthAdjust="spacingAndGlyphs">B*51:02</text>
<text x="336.20" y="486.85" font-size="8.6" text-anchor="end" textLength="29.5" lengthAdjust="spacingAndGlyphs">B*52:01</text>
<text x="336.20" y="497.41" font-size="8.6" text-anchor="end" textLength="29.5" lengthAdjust="spacingAndGlyphs">B*53:01</text>
<text x="336.20" y="507.96" font-size="8.6" text-anchor="end" textLength="29.5" lengthAdjust="spacingAndGlyphs">B*54:01</text>
<text x="336.20" y="518.51" font-size="8.6" text-anchor="end" textLength="29.5" lengthAdjust="spacingAndGlyphs">B*55:01</text>
<text x="336.20" y="529.06" font-size="8.6" text-anchor="end" textLength="29.5" lengthAdjust="spacingAndGlyphs">B*56:01</text>
<text x="336.20" y="539.61" font-size="8.6" text-anchor="end" textLength="29.5" lengthAdjust="spacingAndGlyphs">B*57:01</text>
<text x="336.20" y="550.17" font-size="8.6" text-anchor="end" textLength="29.5" lengthAdjust="spacingAndGlyphs">B*57:03</text>
<text x="336.20" y="560.72" font-size="8.6" text-anchor="end" textLength="29.5" lengthAdjust="spacingAndGlyphs">B*58:01</text>
<text x="336.20" y="571.27" font-size="8.6" text-anchor="end" textLength="29.5" lengthAdjust="spacingAndGlyphs">B*59:01</text>
<text x="336.20" y="581.82" font-size="8.6" text-anchor="end" textLength="29.5" lengthAdjust="spacingAndGlyphs">B*67:01</text>
<text x="336.20" y="592.37" font-size="8.6" text-anchor="end" textLength="29.5" lengthAdjust="spacingAndGlyphs">B*73:01</text>
<text x="336.20" y="602.93" font-size="8.6" text-anchor="end" textLength="29.5" lengthAdjust="spacingAndGlyphs">B*78:01</text>
<text x="336.20" y="613.48" font-size="8.6" text-anchor="end" textLength="29.5" lengthAdjust="spacingAndGlyphs">B*81:01</text>
<text x="336.20" y="624.03" font-size="8.6" text-anchor="end" textLength="29.5" lengthAdjust="spacingAndGlyphs">B*82:01</text>
<text x="350.30" y="59.60" font-size="10.3" text-anchor="middle" textLength="10.6" lengthAdjust="spacingAndGlyphs">01</text>
<line x1="341.70" y1="62.70" x2="357.70" y2="62.70" stroke="#333" stroke-width="1.0"/>
<line x1="343.30" y1="75.60" x2="348.30" y2="75.60" stroke="#333333" stroke-width="0.95"/>
<line x1="345.80" y1="73.00" x2="345.80" y2="78.20" stroke="#333333" stroke-width="0.95"/>
<line x1="352.30" y1="75.60" x2="357.30" y2="75.60" stroke="#333333" stroke-width="0.95"/>
<line x1="342.80" y1="88.50" x2="347.80" y2="88.50" stroke="#333333" stroke-width="0.95"/>
<line x1="352.30" y1="88.50" x2="357.30" y2="88.50" stroke="#333333" stroke-width="0.95"/>
<line x1="354.80" y1="85.90" x2="354.80" y2="91.10" stroke="#333333" stroke-width="0.95"/>
<text x="377.20" y="59.60" font-size="10.3" text-anchor="middle" textLength="10.6" lengthAdjust="spacingAndGlyphs">02</text>
<line x1="368.60" y1="62.70" x2="384.60" y2="62.70" stroke="#333" stroke-width="1.0"/>
<line x1="370.20" y1="75.60" x2="375.20" y2="75.60" stroke="#333333" stroke-width="0.95"/>
<line x1="372.70" y1="73.00" x2="372.70" y2="78.20" stroke="#333333" stroke-width="0.95"/>
<line x1="379.20" y1="75.60" x2="384.20" y2="75.60" stroke="#333333" stroke-width="0.95"/>
<line x1="369.70" y1="88.50" x2="374.70" y2="88.50" stroke="#333333" stroke-width="0.95"/>
<line x1="379.20" y1="88.50" x2="384.20" y2="88.50" stroke="#333333" stroke-width="0.95"/>
<line x1="381.70" y1="85.90" x2="381.70" y2="91.10" stroke="#333333" stroke-width="0.95"/>
<text x="404.10" y="59.60" font-size="10.3" text-anchor="middle" textLength="10.6" lengthAdjust="spacingAndGlyphs">03</text>
<line x1="395.50" y1="62.70" x2="411.50" y2="62.70" stroke="#333" stroke-width="1.0"/>
<line x1="397.10" y1="75.60" x2="402.10" y2="75.60" stroke="#333333" stroke-width="0.95"/>
<line x1="399.60" y1="73.00" x2="399.60" y2="78.20" stroke="#333333" stroke-width="0.95"/>
<line x1="406.10" y1="75.60" x2="411.10" y2="75.60" stroke="#333333" stroke-width="0.95"/>
<line x1="396.60" y1="88.50" x2="401.60" y2="88.50" stroke="#333333" stroke-width="0.95"/>
<line x1="406.10" y1="88.50" x2="411.10" y2="88.50" stroke="#333333" stroke-width="0.95"/>
<line x1="408.60" y1="85.90" x2="408.60" y2="91.10" stroke="#333333" stroke-width="0.95"/>
<text x="431.00" y="59.60" font-size="10.3" text-anchor="middle" textLength="10.6" lengthAdjust="spacingAndGlyphs">04</text>
<line x1="422.40" y1="62.70" x2="438.40" y2="62.70" stroke="#333" stroke-width="1.0"/>
<line x1="424.00" y1="75.60" x2="429.00" y2="75.60" stroke="#333333" stroke-width="0.95"/>
<line x1="426.50" y1="73.00" x2="426.50" y2="78.20" stroke="#333333" stroke-width="0.95"/>
<line x1="433.00" y1="75.60" x2="438.00" y2="75.60" stroke="#333333" stroke-width="0.95"/>
<line x1="423.50" y1="88.50" x2="428.50" y2="88.50" stroke="#333333" stroke-width="0.95"/>
<line x1="433.00" y1="88.50" x2="438.00" y2="88.50" stroke="#333333" stroke-width="0.95"/>
<line x1="435.50" y1="85.90" x2="435.50" y2="91.10" stroke="#333333" stroke-width="0.95"/>
<text x="457.90" y="59.60" font-size="10.3" text-anchor="middle" textLength="10.6" lengthAdjust="spacingAndGlyphs">05</text>
<line x1="449.30" y1="62.70" x2="465.30" y2="62.70" stroke="#333" stroke-width="1.0"/>
<line x1="450.90" y1="75.60" x2="455.90" y2="75.60" stroke="#333333" stroke-width="0.95"/>
<line x1="453.40" y1="73.00" x2="453.40" y2="78.20" stroke="#333333" stroke-width="0.95"/>
<line x1="459.90" y1="75.60" x2="464.90" y2="75.60" stroke="#333333" stroke-width="0.95"/>
<line x1="450.40" y1="88.50" x2="455.40" y2="88.50" stroke="#333333" stroke-width="0.95"/>
<line x1="459.90" y1="88.50" x2="464.90" y2="88.50" stroke="#333333" stroke-width="0.95"/>
<line x1="462.40" y1="85.90" x2="462.40" y2="91.10" stroke="#333333" stroke-width="0.95"/>
<text x="484.80" y="59.60" font-size="10.3" text-anchor="middle" textLength="10.6" lengthAdjust="spacingAndGlyphs">06</text>
<line x1="476.20" y1="62.70" x2="492.20" y2="62.70" stroke="#333" stroke-width="1.0"/>
<line x1="477.80" y1="75.60" x2="482.80" y2="75.60" stroke="#333333" stroke-width="0.95"/>
<line x1="480.30" y1="73.00" x2="480.30" y2="78.20" stroke="#333333" stroke-width="0.95"/>
<line x1="486.80" y1="75.60" x2="491.80" y2="75.60" stroke="#333333" stroke-width="0.95"/>
<line x1="477.30" y1="88.50" x2="482.30" y2="88.50" stroke="#333333" stroke-width="0.95"/>
<line x1="486.80" y1="88.50" x2="491.80" y2="88.50" stroke="#333333" stroke-width="0.95"/>
<line x1="489.30" y1="85.90" x2="489.30" y2="91.10" stroke="#333333" stroke-width="0.95"/>
<text x="511.70" y="59.60" font-size="10.3" text-anchor="middle" textLength="10.6" lengthAdjust="spacingAndGlyphs">07</text>
<line x1="503.10" y1="62.70" x2="519.10" y2="62.70" stroke="#333" stroke-width="1.0"/>
<line x1="504.70" y1="75.60" x2="509.70" y2="75.60" stroke="#333333" stroke-width="0.95"/>
<line x1="507.20" y1="73.00" x2="507.20" y2="78.20" stroke="#333333" stroke-width="0.95"/>
<line x1="513.70" y1="75.60" x2="518.70" y2="75.60" stroke="#333333" stroke-width="0.95"/>
<line x1="504.20" y1="88.50" x2="509.20" y2="88.50" stroke="#333333" stroke-width="0.95"/>
<line x1="513.70" y1="88.50" x2="518.70" y2="88.50" stroke="#333333" stroke-width="0.95"/>
<line x1="516.20" y1="85.90" x2="516.20" y2="91.10" stroke="#333333" stroke-width="0.95"/>
<text x="17.50" y="225.40" font-size="8.6" text-anchor="middle" textLength="14.0" lengthAdjust="spacingAndGlyphs">MFI</text>
<text x="17.20" y="235.60" font-size="8.6" text-anchor="middle" textLength="28.4" lengthAdjust="spacingAndGlyphs">Change</text>
<rect x="34.3" y="247.20" width="9.30" height="10.46" fill="#ee5a62"/>
<rect x="34.3" y="257.36" width="9.30" height="10.46" fill="#f06c73"/>
<rect x="34.3" y="267.53" width="9.30" height="10.46" fill="#f28087"/>
<rect x="34.3" y="277.69" width="9.30" height="10.46" fill="#f5959b"/>
<rect x="34.3" y="287.86" width="9.30" height="10.46" fill="#f7abb0"/>
<rect x="34.3" y="298.02" width="9.30" height="10.46" fill="#f9c2c6"/>
<rect x="34.3" y="308.19" width="9.30" height="10.46" fill="#fbd6d9"/>
<rect x="34.3" y="318.35" width="9.30" height="10.46" fill="#fdeaec"/>
<rect x="34.3" y="328.52" width="9.30" height="10.46" fill="#ffffff"/>
<rect x="34.3" y="338.68" width="9.30" height="10.46" fill="#e1f1fa"/>
<rect x="34.3" y="348.85" width="9.30" height="10.46" fill="#c4e4f5"/>
<rect x="34.3" y="359.01" width="9.30" height="10.46" fill="#9fd3ef"/>
<rect x="34.3" y="369.18" width="9.30" height="10.46" fill="#72c1e8"/>
<rect x="34.3" y="379.34" width="9.30" height="10.46" fill="#19aee3"/>
<rect x="34.3" y="389.51" width="9.30" height="10.46" fill="#13a3de"/>
<rect x="34.3" y="399.67" width="9.30" height="10.46" fill="#1595d6"/>
<rect x="34.3" y="409.84" width="9.30" height="10.46" fill="#1287cf"/>
<rect x="34.3" y="247.2" width="9.30" height="172.80" fill="none" stroke="#555" stroke-width="0.8"/>
<text x="31.00" y="255.60" font-size="8.6" text-anchor="end">≥10000</text>
<text x="31.00" y="275.80" font-size="8.6" text-anchor="end">7500</text>
<text x="31.00" y="296.10" font-size="8.6" text-anchor="end">5000</text>
<text x="31.00" y="316.40" font-size="8.6" text-anchor="end">2500</text>
<text x="31.00" y="336.70" font-size="8.6" text-anchor="end">0</text>
<text x="31.00" y="357.00" font-size="8.6" text-anchor="end">-2500</text>
<text x="31.00" y="377.30" font-size="8.6" text-anchor="end">-5000</text>
<text x="31.00" y="397.60" font-size="8.6" text-anchor="end">-7500</text>
<text x="31.00" y="418.00" font-size="8.6" text-anchor="end">≤-10000</text>
<line x1="61.60" y1="472.00" x2="61.60" y2="616.60" stroke="#333333" stroke-width="1.0"/>
<line x1="61.10" y1="616.40" x2="135.10" y2="616.40" stroke="#333333" stroke-width="1.0"/>
<line x1="59.00" y1="616.40" x2="61.60" y2="616.40" stroke="#333333" stroke-width="1.0"/>
<text x="55.00" y="619.10" font-size="9.0" text-anchor="end">0</text>
<line x1="59.00" y1="588.08" x2="61.60" y2="588.08" stroke="#333333" stroke-width="1.0"/>
<text x="55.00" y="590.78" font-size="9.0" text-anchor="end">5,000</text>
<line x1="59.00" y1="559.76" x2="61.60" y2="559.76" stroke="#333333" stroke-width="1.0"/>
<text x="55.00" y="562.46" font-size="9.0" text-anchor="end">10,000</text>
<line x1="59.00" y1="531.44" x2="61.60" y2="531.44" stroke="#333333" stroke-width="1.0"/>
<text x="55.00" y="534.14" font-size="9.0" text-anchor="end">15,000</text>
<line x1="59.00" y1="503.12" x2="61.60" y2="503.12" stroke="#333333" stroke-width="1.0"/>
<text x="55.00" y="505.82" font-size="9.0" text-anchor="end">20,000</text>
<line x1="59.00" y1="474.80" x2="61.60" y2="474.80" stroke="#333333" stroke-width="1.0"/>
<text x="55.00" y="477.50" font-size="9.0" text-anchor="end">25,000</text>
<line x1="61.60" y1="616.40" x2="61.60" y2="619.00" stroke="#333333" stroke-width="1.0"/>
<text x="61.60" y="630.70" font-size="8.4" text-anchor="middle">1</text>
<line x1="85.20" y1="616.40" x2="85.20" y2="619.00" stroke="#333333" stroke-width="1.0"/>
<text x="85.20" y="630.70" font-size="8.4" text-anchor="middle">5</text>
<line x1="108.70" y1="616.40" x2="108.70" y2="619.00" stroke="#333333" stroke-width="1.0"/>
<text x="108.70" y="630.70" font-size="8.4" text-anchor="middle">25</text>
<line x1="132.60" y1="616.40" x2="132.60" y2="619.00" stroke="#333333" stroke-width="1.0"/>
<text x="132.60" y="630.70" font-size="8.4" text-anchor="middle">125</text>
<text x="98.30" y="646.30" font-size="10.0" text-anchor="middle" textLength="64.4" lengthAdjust="spacingAndGlyphs">Dilution factor</text>
<line x1="62.60" y1="588.40" x2="136.10" y2="588.40" stroke="#333333" stroke-width="0.95" stroke-dasharray="2,2"/>
<rect x="71.1" y="453.4" width="55.2" height="14.6" fill="#fff" stroke="#333333" stroke-width="0.9"/>
<text x="99.00" y="463.10" font-size="9.6" text-anchor="middle" textLength="43.0" lengthAdjust="spacingAndGlyphs">Serum #03</text>
<polyline points="61.60,482.10 85.20,509.60 108.70,568.80 132.60,598.90" fill="none" stroke="#4eb0e0" stroke-width="1.15"/>
<polyline points="61.60,486.00 85.20,504.50 108.70,566.00 132.60,597.00" fill="none" stroke="#4eb0e0" stroke-width="1.15"/>
<polyline points="61.60,533.20 85.20,571.60 108.70,600.40 132.60,611.40" fill="none" stroke="#b8192f" stroke-width="1.15"/>
<polyline points="61.60,529.70 85.20,571.00 108.70,599.80 132.60,610.80" fill="none" stroke="#b8192f" stroke-width="1.15"/>
<polyline points="61.60,522.10 85.20,562.30 108.70,595.00 132.60,609.40" fill="none" stroke="#b8192f" stroke-width="1.15"/>
<polyline points="61.60,489.50 85.20,504.10 108.70,565.00 132.60,596.00" fill="none" stroke="#3c9f3c" stroke-width="1.15"/>
<polyline points="61.60,490.20 85.20,500.90 108.70,563.60 132.60,595.60" fill="none" stroke="#3c9f3c" stroke-width="1.15"/>
<polyline points="61.60,488.50 85.20,497.60 108.70,561.60 132.60,593.70" fill="none" stroke="#3c9f3c" stroke-width="1.15"/>
<polyline points="61.60,485.60 85.20,494.60 108.70,553.70 132.60,590.40" fill="none" stroke="#3c9f3c" stroke-width="1.15"/>
<circle cx="61.60" cy="482.10" r="3.75" fill="#fff" fill-opacity="0.85" stroke="#4eb0e0" stroke-width="1.0"/>
<circle cx="85.20" cy="509.60" r="3.75" fill="#fff" fill-opacity="0.85" stroke="#4eb0e0" stroke-width="1.0"/>
<circle cx="108.70" cy="568.80" r="3.75" fill="#fff" fill-opacity="0.85" stroke="#4eb0e0" stroke-width="1.0"/>
<circle cx="132.60" cy="598.90" r="3.75" fill="#fff" fill-opacity="0.85" stroke="#4eb0e0" stroke-width="1.0"/>
<circle cx="61.60" cy="486.00" r="3.75" fill="#fff" fill-opacity="0.85" stroke="#4eb0e0" stroke-width="1.0"/>
<circle cx="85.20" cy="504.50" r="3.75" fill="#fff" fill-opacity="0.85" stroke="#4eb0e0" stroke-width="1.0"/>
<circle cx="108.70" cy="566.00" r="3.75" fill="#fff" fill-opacity="0.85" stroke="#4eb0e0" stroke-width="1.0"/>
<circle cx="132.60" cy="597.00" r="3.75" fill="#fff" fill-opacity="0.85" stroke="#4eb0e0" stroke-width="1.0"/>
<circle cx="61.60" cy="533.20" r="3.75" fill="#fff" fill-opacity="0.85" stroke="#b8192f" stroke-width="1.0"/>
<circle cx="85.20" cy="571.60" r="3.75" fill="#fff" fill-opacity="0.85" stroke="#b8192f" stroke-width="1.0"/>
<circle cx="108.70" cy="600.40" r="3.75" fill="#fff" fill-opacity="0.85" stroke="#b8192f" stroke-width="1.0"/>
<circle cx="132.60" cy="611.40" r="3.75" fill="#fff" fill-opacity="0.85" stroke="#b8192f" stroke-width="1.0"/>
<circle cx="61.60" cy="529.70" r="3.75" fill="#fff" fill-opacity="0.85" stroke="#b8192f" stroke-width="1.0"/>
<circle cx="85.20" cy="571.00" r="3.75" fill="#fff" fill-opacity="0.85" stroke="#b8192f" stroke-width="1.0"/>
<circle cx="108.70" cy="599.80" r="3.75" fill="#fff" fill-opacity="0.85" stroke="#b8192f" stroke-width="1.0"/>
<circle cx="132.60" cy="610.80" r="3.75" fill="#fff" fill-opacity="0.85" stroke="#b8192f" stroke-width="1.0"/>
<circle cx="61.60" cy="522.10" r="3.75" fill="#fff" fill-opacity="0.85" stroke="#b8192f" stroke-width="1.0"/>
<circle cx="85.20" cy="562.30" r="3.75" fill="#fff" fill-opacity="0.85" stroke="#b8192f" stroke-width="1.0"/>
<circle cx="108.70" cy="595.00" r="3.75" fill="#fff" fill-opacity="0.85" stroke="#b8192f" stroke-width="1.0"/>
<circle cx="132.60" cy="609.40" r="3.75" fill="#fff" fill-opacity="0.85" stroke="#b8192f" stroke-width="1.0"/>
<circle cx="61.60" cy="489.50" r="3.75" fill="#fff" fill-opacity="0.85" stroke="#3c9f3c" stroke-width="1.0"/>
<circle cx="85.20" cy="504.10" r="3.75" fill="#fff" fill-opacity="0.85" stroke="#3c9f3c" stroke-width="1.0"/>
<circle cx="108.70" cy="565.00" r="3.75" fill="#fff" fill-opacity="0.85" stroke="#3c9f3c" stroke-width="1.0"/>
<circle cx="132.60" cy="596.00" r="3.75" fill="#fff" fill-opacity="0.85" stroke="#3c9f3c" stroke-width="1.0"/>
<circle cx="61.60" cy="490.20" r="3.75" fill="#fff" fill-opacity="0.85" stroke="#3c9f3c" stroke-width="1.0"/>
<circle cx="85.20" cy="500.90" r="3.75" fill="#fff" fill-opacity="0.85" stroke="#3c9f3c" stroke-width="1.0"/>
<circle cx="108.70" cy="563.60" r="3.75" fill="#fff" fill-opacity="0.85" stroke="#3c9f3c" stroke-width="1.0"/>
<circle cx="132.60" cy="595.60" r="3.75" fill="#fff" fill-opacity="0.85" stroke="#3c9f3c" stroke-width="1.0"/>
<circle cx="61.60" cy="488.50" r="3.75" fill="#fff" fill-opacity="0.85" stroke="#3c9f3c" stroke-width="1.0"/>
<circle cx="85.20" cy="497.60" r="3.75" fill="#fff" fill-opacity="0.85" stroke="#3c9f3c" stroke-width="1.0"/>
<circle cx="108.70" cy="561.60" r="3.75" fill="#fff" fill-opacity="0.85" stroke="#3c9f3c" stroke-width="1.0"/>
<circle cx="132.60" cy="593.70" r="3.75" fill="#fff" fill-opacity="0.85" stroke="#3c9f3c" stroke-width="1.0"/>
<circle cx="61.60" cy="485.60" r="3.75" fill="#fff" fill-opacity="0.85" stroke="#3c9f3c" stroke-width="1.0"/>
<circle cx="85.20" cy="494.60" r="3.75" fill="#fff" fill-opacity="0.85" stroke="#3c9f3c" stroke-width="1.0"/>
<circle cx="108.70" cy="553.70" r="3.75" fill="#fff" fill-opacity="0.85" stroke="#3c9f3c" stroke-width="1.0"/>
<circle cx="132.60" cy="590.40" r="3.75" fill="#fff" fill-opacity="0.85" stroke="#3c9f3c" stroke-width="1.0"/>
<text x="0" y="0" font-size="8.6" text-anchor="middle" transform="translate(22.2,544.5) rotate(-90)" textLength="12.4" lengthAdjust="spacingAndGlyphs">MFI</text>
<line x1="185.40" y1="472.00" x2="185.40" y2="616.60" stroke="#333333" stroke-width="1.0"/>
<line x1="184.90" y1="616.40" x2="259.10" y2="616.40" stroke="#333333" stroke-width="1.0"/>
<line x1="182.80" y1="616.40" x2="185.40" y2="616.40" stroke="#333333" stroke-width="1.0"/>
<text x="178.80" y="619.10" font-size="9.0" text-anchor="end">0</text>
<line x1="182.80" y1="588.08" x2="185.40" y2="588.08" stroke="#333333" stroke-width="1.0"/>
<text x="178.80" y="590.78" font-size="9.0" text-anchor="end">5,000</text>
<line x1="182.80" y1="559.76" x2="185.40" y2="559.76" stroke="#333333" stroke-width="1.0"/>
<text x="178.80" y="562.46" font-size="9.0" text-anchor="end">10,000</text>
<line x1="182.80" y1="531.44" x2="185.40" y2="531.44" stroke="#333333" stroke-width="1.0"/>
<text x="178.80" y="534.14" font-size="9.0" text-anchor="end">15,000</text>
<line x1="182.80" y1="503.12" x2="185.40" y2="503.12" stroke="#333333" stroke-width="1.0"/>
<text x="178.80" y="505.82" font-size="9.0" text-anchor="end">20,000</text>
<line x1="182.80" y1="474.80" x2="185.40" y2="474.80" stroke="#333333" stroke-width="1.0"/>
<text x="178.80" y="477.50" font-size="9.0" text-anchor="end">25,000</text>
<line x1="185.40" y1="616.40" x2="185.40" y2="619.00" stroke="#333333" stroke-width="1.0"/>
<text x="185.40" y="630.70" font-size="8.4" text-anchor="middle">1</text>
<line x1="209.30" y1="616.40" x2="209.30" y2="619.00" stroke="#333333" stroke-width="1.0"/>
<text x="209.30" y="630.70" font-size="8.4" text-anchor="middle">3</text>
<line x1="233.00" y1="616.40" x2="233.00" y2="619.00" stroke="#333333" stroke-width="1.0"/>
<text x="233.00" y="630.70" font-size="8.4" text-anchor="middle">9</text>
<line x1="256.60" y1="616.40" x2="256.60" y2="619.00" stroke="#333333" stroke-width="1.0"/>
<text x="256.60" y="630.70" font-size="8.4" text-anchor="middle">27</text>
<text x="222.20" y="646.30" font-size="10.0" text-anchor="middle" textLength="64.4" lengthAdjust="spacingAndGlyphs">Dilution factor</text>
<line x1="186.40" y1="588.40" x2="260.10" y2="588.40" stroke="#333333" stroke-width="0.95" stroke-dasharray="2,2"/>
<rect x="194.8" y="453.6" width="55.2" height="14.4" fill="#fff" stroke="#333333" stroke-width="0.9"/>
<text x="222.70" y="463.30" font-size="9.6" text-anchor="middle" textLength="43.0" lengthAdjust="spacingAndGlyphs">Serum #07</text>
<polyline points="185.40,608.20 209.30,613.20 233.00,615.50 256.60,616.00" fill="none" stroke="#4eb0e0" stroke-width="1.15"/>
<polyline points="185.40,604.80 209.30,612.00 233.00,615.00 256.60,615.80" fill="none" stroke="#4eb0e0" stroke-width="1.15"/>
<polyline points="185.40,600.80 209.30,609.60 233.00,614.80 256.60,615.80" fill="none" stroke="#4eb0e0" stroke-width="1.15"/>
<polyline points="185.40,527.00 209.30,551.40 233.00,578.00 256.60,599.40" fill="none" stroke="#b8192f" stroke-width="1.15"/>
<polyline points="185.40,526.40 209.30,540.30 233.00,572.50 256.60,598.50" fill="none" stroke="#b8192f" stroke-width="1.15"/>
<polyline points="185.40,521.50 209.30,545.40 233.00,578.50 256.60,596.60" fill="none" stroke="#3c9f3c" stroke-width="1.15"/>
<polyline points="185.40,514.40 209.30,544.00 233.00,572.00 256.60,595.20" fill="none" stroke="#3c9f3c" stroke-width="1.15"/>
<polyline points="185.40,511.60 209.30,532.40 233.00,571.90 256.60,594.70" fill="none" stroke="#3c9f3c" stroke-width="1.15"/>
<circle cx="185.40" cy="608.20" r="3.75" fill="#fff" fill-opacity="0.85" stroke="#4eb0e0" stroke-width="1.0"/>
<circle cx="209.30" cy="613.20" r="3.75" fill="#fff" fill-opacity="0.85" stroke="#4eb0e0" stroke-width="1.0"/>
<circle cx="233.00" cy="615.50" r="3.75" fill="#fff" fill-opacity="0.85" stroke="#4eb0e0" stroke-width="1.0"/>
<circle cx="256.60" cy="616.00" r="3.75" fill="#fff" fill-opacity="0.85" stroke="#4eb0e0" stroke-width="1.0"/>
<circle cx="185.40" cy="604.80" r="3.75" fill="#fff" fill-opacity="0.85" stroke="#4eb0e0" stroke-width="1.0"/>
<circle cx="209.30" cy="612.00" r="3.75" fill="#fff" fill-opacity="0.85" stroke="#4eb0e0" stroke-width="1.0"/>
<circle cx="233.00" cy="615.00" r="3.75" fill="#fff" fill-opacity="0.85" stroke="#4eb0e0" stroke-width="1.0"/>
<circle cx="256.60" cy="615.80" r="3.75" fill="#fff" fill-opacity="0.85" stroke="#4eb0e0" stroke-width="1.0"/>
<circle cx="185.40" cy="600.80" r="3.75" fill="#fff" fill-opacity="0.85" stroke="#4eb0e0" stroke-width="1.0"/>
<circle cx="209.30" cy="609.60" r="3.75" fill="#fff" fill-opacity="0.85" stroke="#4eb0e0" stroke-width="1.0"/>
<circle cx="233.00" cy="614.80" r="3.75" fill="#fff" fill-opacity="0.85" stroke="#4eb0e0" stroke-width="1.0"/>
<circle cx="256.60" cy="615.80" r="3.75" fill="#fff" fill-opacity="0.85" stroke="#4eb0e0" stroke-width="1.0"/>
<circle cx="185.40" cy="527.00" r="3.75" fill="#fff" fill-opacity="0.85" stroke="#b8192f" stroke-width="1.0"/>
<circle cx="209.30" cy="551.40" r="3.75" fill="#fff" fill-opacity="0.85" stroke="#b8192f" stroke-width="1.0"/>
<circle cx="233.00" cy="578.00" r="3.75" fill="#fff" fill-opacity="0.85" stroke="#b8192f" stroke-width="1.0"/>
<circle cx="256.60" cy="599.40" r="3.75" fill="#fff" fill-opacity="0.85" stroke="#b8192f" stroke-width="1.0"/>
<circle cx="185.40" cy="526.40" r="3.75" fill="#fff" fill-opacity="0.85" stroke="#b8192f" stroke-width="1.0"/>
<circle cx="209.30" cy="540.30" r="3.75" fill="#fff" fill-opacity="0.85" stroke="#b8192f" stroke-width="1.0"/>
<circle cx="233.00" cy="572.50" r="3.75" fill="#fff" fill-opacity="0.85" stroke="#b8192f" stroke-width="1.0"/>
<circle cx="256.60" cy="598.50" r="3.75" fill="#fff" fill-opacity="0.85" stroke="#b8192f" stroke-width="1.0"/>
<circle cx="185.40" cy="521.50" r="3.75" fill="#fff" fill-opacity="0.85" stroke="#3c9f3c" stroke-width="1.0"/>
<circle cx="209.30" cy="545.40" r="3.75" fill="#fff" fill-opacity="0.85" stroke="#3c9f3c" stroke-width="1.0"/>
<circle cx="233.00" cy="578.50" r="3.75" fill="#fff" fill-opacity="0.85" stroke="#3c9f3c" stroke-width="1.0"/>
<circle cx="256.60" cy="596.60" r="3.75" fill="#fff" fill-opacity="0.85" stroke="#3c9f3c" stroke-width="1.0"/>
<circle cx="185.40" cy="514.40" r="3.75" fill="#fff" fill-opacity="0.85" stroke="#3c9f3c" stroke-width="1.0"/>
<circle cx="209.30" cy="544.00" r="3.75" fill="#fff" fill-opacity="0.85" stroke="#3c9f3c" stroke-width="1.0"/>
<circle cx="233.00" cy="572.00" r="3.75" fill="#fff" fill-opacity="0.85" stroke="#3c9f3c" stroke-width="1.0"/>
<circle cx="256.60" cy="595.20" r="3.75" fill="#fff" fill-opacity="0.85" stroke="#3c9f3c" stroke-width="1.0"/>
<circle cx="185.40" cy="511.60" r="3.75" fill="#fff" fill-opacity="0.85" stroke="#3c9f3c" stroke-width="1.0"/>
<circle cx="209.30" cy="532.40" r="3.75" fill="#fff" fill-opacity="0.85" stroke="#3c9f3c" stroke-width="1.0"/>
<circle cx="233.00" cy="571.90" r="3.75" fill="#fff" fill-opacity="0.85" stroke="#3c9f3c" stroke-width="1.0"/>
<circle cx="256.60" cy="594.70" r="3.75" fill="#fff" fill-opacity="0.85" stroke="#3c9f3c" stroke-width="1.0"/>
<line x1="222.30" y1="476.80" x2="237.00" y2="476.80" stroke="#3c9f3c" stroke-width="1.0"/>
<circle cx="229.7" cy="476.80" r="3.6" fill="#fff" stroke="#3c9f3c" stroke-width="0.95"/>
<text x="243.60" y="478.40" font-size="7.2" textLength="13.8" lengthAdjust="spacingAndGlyphs" fill="#4f9f4c">PBS</text>
<line x1="222.30" y1="490.00" x2="237.00" y2="490.00" stroke="#b8192f" stroke-width="1.0"/>
<circle cx="229.7" cy="490.00" r="3.6" fill="#fff" stroke="#b8192f" stroke-width="0.95"/>
<text x="243.60" y="491.60" font-size="7.2" textLength="18.2" lengthAdjust="spacingAndGlyphs" fill="#a3283a">A2Fc</text>
<line x1="222.30" y1="503.20" x2="237.00" y2="503.20" stroke="#4eb0e0" stroke-width="1.0"/>
<circle cx="229.7" cy="503.20" r="3.6" fill="#fff" stroke="#4eb0e0" stroke-width="0.95"/>
<text x="243.60" y="504.80" font-size="7.2" textLength="17.3" lengthAdjust="spacingAndGlyphs" fill="#5aa9dc">B7Fc</text>
</svg>
</body></html>
